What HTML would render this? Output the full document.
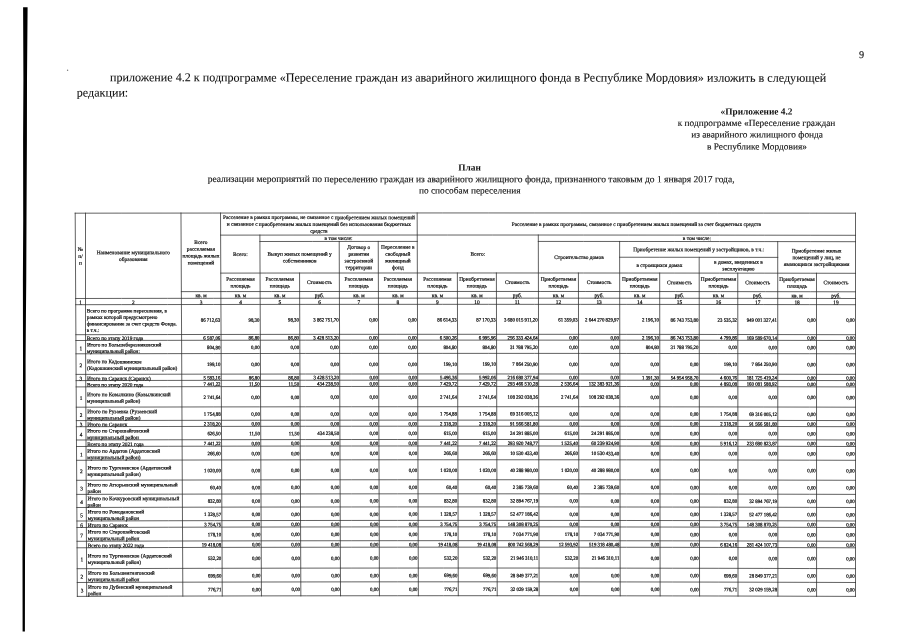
<!DOCTYPE html>
<html lang="ru"><head><meta charset="utf-8"><title>Приложение 4.2</title>
<style>
html,body{margin:0;padding:0;background:#fff;}
body{width:904px;height:640px;position:relative;overflow:hidden;font-family:"Liberation Serif",serif;color:#111;}
svg{position:absolute;left:0;top:0;}
#txt{position:absolute;left:0;top:0;width:904px;height:640px;will-change:transform;}
.x{position:absolute;left:0;top:0;white-space:nowrap;text-align:center;transform-origin:0 0;color:#0c0c0c;overflow:visible;}
.t{position:absolute;left:0;top:0;white-space:nowrap;transform-origin:0 0;color:#111;}
.b{font-weight:bold;}
.h{font-size:5.4px;line-height:6px;height:6px;-webkit-text-stroke:0.19px #0c0c0c;}
.u{font-size:5.4px;line-height:6px;height:6px;-webkit-text-stroke:0.2px #0c0c0c;}
.n{font-size:4.85px;line-height:5px;height:5px;-webkit-text-stroke:0.22px #0c0c0c;}
.l{font-size:5.3px;line-height:6px;height:6px;-webkit-text-stroke:0.2px #0c0c0c;}
.r{font-size:5.3px;line-height:6px;height:6px;-webkit-text-stroke:0.2px #0c0c0c;}
</style></head>
<body>
<svg width="904" height="640" viewBox="0 0 904 640">
<polygon points="23.1,7.3 27.6,7.3 27.0,80 26.9,140 26.5,220 26.25,280 25.9,320 25.6,360 25.6,480 25.0,560 24.9,631.5 22.6,631.5 22.5,560 22.9,480 23.0,360 22.9,280 23.2,220 23.1,140 23.4,80" fill="#000" stroke="none"/>
<circle cx="67.6" cy="70.2" r="0.7" fill="#777" stroke="none"/>
<g stroke="#2e2e2e" fill="none" stroke-linecap="square">
<polyline points="75.20,213.20 121.10,213.14 167.00,213.10 212.90,213.05 258.80,213.02 304.70,212.99 350.60,212.97 396.50,212.96 442.40,212.95 488.30,212.95 534.20,212.96 580.10,212.97 626.00,212.99 671.90,213.02 717.80,213.05 763.70,213.10 809.60,213.14 855.50,213.20" stroke-width="0.75"/>
<polyline points="77.35,596.39 123.12,596.24 168.90,596.10 214.67,595.99 260.44,595.89 306.22,595.82 351.99,595.76 397.76,595.72 443.54,595.70 489.31,595.70 535.08,595.72 580.86,595.76 626.63,595.82 672.41,595.90 718.18,595.99 763.95,596.11 809.73,596.25 855.50,596.40" stroke-width="0.75"/>
<line x1="75.20" y1="213.20" x2="77.35" y2="596.39" stroke-width="0.75"/>
<line x1="855.50" y1="213.20" x2="855.50" y2="596.40" stroke-width="0.75"/>
<line x1="180.98" y1="213.08" x2="182.84" y2="596.07" stroke-width="0.75"/>
<line x1="220.51" y1="213.05" x2="222.26" y2="595.97" stroke-width="0.75"/>
<line x1="417.16" y1="212.95" x2="418.37" y2="595.71" stroke-width="0.75"/>
<line x1="85.50" y1="213.19" x2="85.50" y2="329.98" stroke-width="0.75"/>
<line x1="85.50" y1="329.98" x2="86.70" y2="596.36" stroke-width="0.75"/>
<polyline points="220.61,235.13 265.96,235.10 311.31,235.07 356.66,235.05 402.01,235.03 447.36,235.02 492.71,235.03 538.06,235.03 583.41,235.05 628.76,235.07 674.10,235.10 719.45,235.14 764.80,235.19 810.15,235.24 855.50,235.30" stroke-width="0.75"/>
<polyline points="259.92,241.50 312.36,241.46 364.81,241.44 417.25,241.42" stroke-width="0.75"/>
<polyline points="538.32,241.43 583.63,241.44 628.94,241.47 674.26,241.50 719.57,241.54 764.88,241.58 810.19,241.64 855.50,241.70" stroke-width="0.75"/>
<polyline points="619.64,257.25 659.16,257.27 698.68,257.31 738.20,257.35 777.72,257.39" stroke-width="0.75"/>
<polyline points="220.79,273.11 266.12,273.06 311.46,273.03 356.80,273.00 402.13,272.99 447.47,272.98 492.81,272.98 538.14,272.99 583.48,273.01 628.82,273.04 674.15,273.07 719.49,273.12 764.83,273.17 810.16,273.23 855.50,273.30" stroke-width="0.75"/>
<polyline points="181.36,291.64 226.31,291.59 271.25,291.54 316.19,291.51 361.13,291.48 406.08,291.47 451.02,291.46 495.96,291.46 540.90,291.47 585.85,291.49 630.79,291.52 675.73,291.56 720.67,291.60 765.62,291.66 810.56,291.73 855.50,291.80" stroke-width="0.75"/>
<polyline points="75.68,298.50 121.55,298.42 167.42,298.35 213.29,298.30 259.17,298.25 305.04,298.21 350.91,298.18 396.78,298.16 442.65,298.15 488.53,298.15 534.40,298.16 580.27,298.18 626.14,298.21 672.01,298.25 717.88,298.30 763.76,298.35 809.63,298.42 855.50,298.50" stroke-width="0.75"/>
<polyline points="75.71,304.70 121.58,304.62 167.45,304.55 213.32,304.49 259.19,304.44 305.06,304.40 350.93,304.37 396.80,304.35 442.67,304.34 488.54,304.34 534.41,304.35 580.28,304.37 626.15,304.40 672.02,304.44 717.89,304.49 763.76,304.55 809.63,304.62 855.50,304.70" stroke-width="0.75"/>
<line x1="259.89" y1="235.10" x2="261.43" y2="595.89" stroke-width="0.75"/>
<line x1="538.31" y1="235.03" x2="539.13" y2="595.72" stroke-width="0.75"/>
<line x1="339.21" y1="241.45" x2="340.52" y2="595.77" stroke-width="0.75"/>
<line x1="378.23" y1="241.43" x2="379.45" y2="595.73" stroke-width="0.75"/>
<line x1="619.62" y1="241.46" x2="620.22" y2="595.81" stroke-width="0.75"/>
<line x1="777.71" y1="241.60" x2="777.90" y2="596.15" stroke-width="0.75"/>
<line x1="699.18" y1="257.31" x2="699.56" y2="595.95" stroke-width="0.75"/>
<line x1="299.56" y1="273.04" x2="300.85" y2="595.82" stroke-width="0.75"/>
<line x1="457.37" y1="272.98" x2="458.29" y2="595.70" stroke-width="0.75"/>
<line x1="496.38" y1="272.98" x2="497.21" y2="595.70" stroke-width="0.75"/>
<line x1="578.41" y1="273.01" x2="579.05" y2="595.76" stroke-width="0.75"/>
<line x1="659.68" y1="273.06" x2="660.14" y2="595.87" stroke-width="0.75"/>
<line x1="737.76" y1="273.14" x2="738.03" y2="596.04" stroke-width="0.75"/>
<line x1="816.49" y1="273.24" x2="816.58" y2="596.27" stroke-width="0.75"/>
<polyline points="75.88,334.70 121.74,334.61 167.60,334.54 213.46,334.47 259.32,334.42 305.18,334.37 351.04,334.34 396.90,334.32 442.76,334.31 488.62,334.31 534.48,334.32 580.34,334.34 626.20,334.37 672.06,334.42 717.92,334.47 763.78,334.54 809.64,334.61 855.50,334.70" stroke-width="0.75"/>
<polyline points="75.91,340.50 121.77,340.41 167.63,340.33 213.49,340.27 259.35,340.21 305.20,340.17 351.06,340.13 396.92,340.11 442.78,340.10 488.64,340.10 534.49,340.11 580.35,340.14 626.21,340.17 672.07,340.21 717.93,340.27 763.78,340.33 809.64,340.41 855.50,340.50" stroke-width="0.75"/>
<polyline points="75.99,353.80 121.84,353.71 167.70,353.63 213.55,353.56 259.40,353.50 305.26,353.45 351.11,353.42 396.96,353.40 442.82,353.39 488.67,353.39 534.52,353.40 580.38,353.42 626.23,353.46 672.09,353.50 717.94,353.56 763.79,353.63 809.65,353.71 855.50,353.80" stroke-width="0.75"/>
<polyline points="76.10,374.40 121.95,374.30 167.80,374.22 213.64,374.14 259.49,374.08 305.34,374.03 351.19,374.00 397.03,373.97 442.88,373.96 488.73,373.96 534.57,373.97 580.42,374.00 626.27,374.04 672.11,374.08 717.96,374.14 763.81,374.22 809.65,374.30 855.50,374.40" stroke-width="0.75"/>
<polyline points="76.14,380.60 121.98,380.50 167.83,380.41 213.67,380.34 259.52,380.28 305.36,380.23 351.21,380.19 397.05,380.17 442.90,380.15 488.74,380.16 534.59,380.17 580.43,380.19 626.28,380.23 672.12,380.28 717.97,380.34 763.81,380.41 809.66,380.50 855.50,380.60" stroke-width="0.75"/>
<polyline points="76.17,386.90 122.02,386.80 167.86,386.71 213.70,386.64 259.55,386.57 305.39,386.52 351.23,386.48 397.07,386.46 442.92,386.45 488.76,386.45 534.60,386.46 580.44,386.49 626.29,386.52 672.13,386.57 717.97,386.64 763.81,386.71 809.66,386.80 855.50,386.90" stroke-width="0.75"/>
<polyline points="76.29,407.20 122.12,407.09 167.96,407.00 213.80,406.92 259.63,406.86 305.47,406.80 351.30,406.76 397.14,406.74 442.98,406.72 488.81,406.72 534.65,406.74 580.48,406.76 626.32,406.80 672.16,406.86 717.99,406.92 763.83,407.00 809.66,407.09 855.50,407.20" stroke-width="0.75"/>
<polyline points="76.36,420.60 122.19,420.49 168.03,420.39 213.86,420.31 259.69,420.24 305.52,420.19 351.35,420.15 397.18,420.12 443.02,420.11 488.85,420.11 534.68,420.12 580.51,420.15 626.34,420.19 672.17,420.25 718.01,420.31 763.84,420.40 809.67,420.49 855.50,420.60" stroke-width="0.75"/>
<polyline points="76.40,426.70 122.23,426.59 168.06,426.49 213.89,426.41 259.72,426.34 305.55,426.28 351.37,426.24 397.20,426.21 443.03,426.20 488.86,426.20 534.69,426.22 580.52,426.24 626.35,426.28 672.18,426.34 718.01,426.41 763.84,426.49 809.67,426.59 855.50,426.70" stroke-width="0.75"/>
<polyline points="76.47,440.00 122.30,439.88 168.12,439.78 213.95,439.70 259.77,439.63 305.60,439.57 351.42,439.53 397.25,439.50 443.07,439.49 488.90,439.49 534.72,439.50 580.55,439.53 626.37,439.57 672.20,439.63 718.02,439.70 763.85,439.79 809.67,439.89 855.50,440.00" stroke-width="0.75"/>
<polyline points="76.51,446.50 122.33,446.38 168.15,446.28 213.98,446.19 259.80,446.12 305.62,446.06 351.45,446.02 397.27,445.99 443.09,445.98 488.92,445.98 534.74,445.99 580.56,446.02 626.38,446.07 672.21,446.12 718.03,446.20 763.85,446.28 809.68,446.38 855.50,446.50" stroke-width="0.75"/>
<polyline points="76.59,460.30 122.40,460.18 168.22,460.07 214.04,459.98 259.86,459.91 305.68,459.85 351.50,459.81 397.32,459.78 443.13,459.76 488.95,459.76 534.77,459.78 580.59,459.81 626.41,459.85 672.23,459.91 718.04,459.99 763.86,460.08 809.68,460.18 855.50,460.30" stroke-width="0.75"/>
<polyline points="76.70,480.30 122.51,480.17 168.32,480.06 214.13,479.97 259.95,479.89 305.76,479.83 351.57,479.78 397.38,479.75 443.19,479.74 489.00,479.74 534.82,479.75 580.63,479.79 626.44,479.83 672.25,479.89 718.06,479.97 763.88,480.07 809.69,480.18 855.50,480.30" stroke-width="0.75"/>
<polyline points="76.78,494.40 122.58,494.27 168.39,494.16 214.20,494.06 260.01,493.98 305.81,493.92 351.62,493.87 397.43,493.84 443.23,493.82 489.04,493.82 534.85,493.84 580.66,493.87 626.46,493.92 672.27,493.98 718.08,494.06 763.89,494.16 809.69,494.27 855.50,494.40" stroke-width="0.75"/>
<polyline points="76.85,507.50 122.65,507.36 168.46,507.25 214.26,507.15 260.06,507.07 305.86,507.00 351.67,506.96 397.47,506.92 443.27,506.91 489.08,506.91 534.88,506.92 580.68,506.96 626.49,507.01 672.29,507.07 718.09,507.15 763.89,507.25 809.70,507.37 855.50,507.50" stroke-width="0.75"/>
<polyline points="76.93,521.00 122.72,520.86 168.52,520.74 214.32,520.64 260.12,520.56 305.92,520.49 351.72,520.44 397.52,520.41 443.31,520.39 489.11,520.39 534.91,520.41 580.71,520.44 626.51,520.49 672.31,520.56 718.10,520.65 763.90,520.75 809.70,520.86 855.50,521.00" stroke-width="0.75"/>
<polyline points="76.96,527.50 122.76,527.36 168.55,527.24 214.35,527.14 260.15,527.05 305.94,526.98 351.74,526.93 397.54,526.90 443.33,526.88 489.13,526.88 534.93,526.90 580.72,526.93 626.52,526.99 672.31,527.06 718.11,527.14 763.91,527.24 809.70,527.36 855.50,527.50" stroke-width="0.75"/>
<polyline points="77.04,541.29 122.83,541.16 168.62,541.03 214.41,540.93 260.21,540.84 306.00,540.77 351.79,540.72 397.58,540.68 443.37,540.67 489.17,540.67 534.96,540.68 580.75,540.72 626.54,540.77 672.33,540.84 718.12,540.93 763.92,541.04 809.71,541.16 855.50,541.30" stroke-width="0.75"/>
<polyline points="77.08,547.79 122.87,547.65 168.66,547.53 214.44,547.42 260.23,547.34 306.02,547.26 351.81,547.21 397.60,547.18 443.39,547.16 489.18,547.16 534.97,547.18 580.76,547.21 626.55,547.27 672.34,547.34 718.13,547.43 763.92,547.53 809.71,547.66 855.50,547.80" stroke-width="0.75"/>
<polyline points="77.19,568.69 122.98,568.55 168.76,568.42 214.54,568.31 260.32,568.22 306.11,568.14 351.89,568.09 397.67,568.05 443.45,568.03 489.24,568.04 535.02,568.05 580.80,568.09 626.59,568.15 672.37,568.22 718.15,568.31 763.93,568.42 809.72,568.55 855.50,568.70" stroke-width="0.75"/>
<polyline points="77.27,582.49 123.05,582.34 168.83,582.21 214.60,582.10 260.38,582.01 306.16,581.93 351.94,581.87 397.72,581.84 443.50,581.82 489.27,581.82 535.05,581.84 580.83,581.88 626.61,581.93 672.39,582.01 718.17,582.10 763.94,582.22 809.72,582.35 855.50,582.50" stroke-width="0.75"/>
</g>
</svg>
<div id="txt">
<div class="t" style="font-size:12.1px;line-height:14px;height:14px;-webkit-text-stroke:0.08px #111;transform-origin:358.5px 11px;transform:translate(110.00px,70.50px) rotate(0.03deg)">приложение 4.2 к подпрограмме «Переселение граждан из аварийного жилищного фонда в Республике Мордовия» изложить в следующей</div>
<div class="t" style="font-size:12.1px;line-height:14px;height:14px;-webkit-text-stroke:0.08px #111;transform:translate(76.80px,85.50px) rotate(0.03deg)">редакции:</div>
<div class="t" style="font-size:10.3px;line-height:11px;height:11px;-webkit-text-stroke:0.13px #111;transform:translate(859.00px,49.00px) rotate(0.03deg)">9</div>
<div class="t b" style="font-size:9.35px;line-height:10px;height:10px;width:800.0px;text-align:center;transform-origin:400.0px 8px;transform:translate(356.50px,106.50px) rotate(0.03deg)">«Приложение 4.2</div>
<div class="t" style="font-size:9.35px;line-height:10px;height:10px;-webkit-text-stroke:0.13px #111;width:800.0px;text-align:center;transform-origin:400.0px 8px;transform:translate(356.50px,118.00px) rotate(0.03deg)">к подпрограмме «Переселение граждан</div>
<div class="t" style="font-size:9.35px;line-height:10px;height:10px;-webkit-text-stroke:0.13px #111;width:800.0px;text-align:center;transform-origin:400.0px 8px;transform:translate(357.10px,129.50px) rotate(0.03deg)">из аварийного жилищного фонда</div>
<div class="t" style="font-size:9.35px;line-height:10px;height:10px;-webkit-text-stroke:0.13px #111;width:800.0px;text-align:center;transform-origin:400.0px 8px;transform:translate(356.90px,141.50px) rotate(0.03deg)">в Республике Мордовия»</div>
<div class="t b" style="font-size:9.35px;line-height:10px;height:10px;width:800.0px;text-align:center;transform-origin:400.0px 8px;transform:translate(69.60px,162.50px) rotate(0.03deg)">План</div>
<div class="t" style="font-size:9.5px;line-height:10px;height:10px;-webkit-text-stroke:0.13px #111;width:800.0px;text-align:center;transform-origin:400.0px 8px;transform:translate(71.10px,174.20px) rotate(0.03deg)">реализации мероприятий по переселению граждан из аварийного жилищного фонда, признанного таковым до 1 января 2017 года,</div>
<div class="t" style="font-size:9.35px;line-height:10px;height:10px;-webkit-text-stroke:0.13px #111;width:800.0px;text-align:center;transform-origin:400.0px 8px;transform:translate(69.75px,185.50px) rotate(0.03deg)">по способам переселения</div>
<div class="x h" style="width:70.06px;transform:translate(45.44px,246.04px) rotate(0.03deg)">№</div>
<div class="x h" style="width:70.06px;transform:translate(45.44px,252.94px) rotate(0.03deg)">п/</div>
<div class="x h" style="width:70.06px;transform:translate(45.44px,259.84px) rotate(0.03deg)">п</div>
<div class="x h" style="width:155.69px;transform:translate(55.50px,249.19px) rotate(0.03deg)">Наименование муниципального</div>
<div class="x h" style="width:155.69px;transform:translate(55.50px,255.99px) rotate(0.03deg)">образования</div>
<div class="x h" style="width:99.52px;transform:translate(151.17px,238.97px) rotate(0.03deg)">Всего</div>
<div class="x h" style="width:99.52px;transform:translate(151.17px,245.76px) rotate(0.03deg)">расселяемая</div>
<div class="x h" style="width:99.52px;transform:translate(151.17px,252.56px) rotate(0.03deg)">площадь жилых</div>
<div class="x h" style="width:99.52px;transform:translate(151.17px,259.36px) rotate(0.03deg)">помещений</div>
<div class="x h" style="width:256.64px;transform:translate(190.56px,214.05px) rotate(0.03deg)">Расселение в рамках программы, не связанное с приобретением жилых помещений</div>
<div class="x h" style="width:256.64px;transform:translate(190.56px,220.84px) rotate(0.03deg)">и связанное с приобретением жилых помещений без использования бюджетных</div>
<div class="x h" style="width:256.64px;transform:translate(190.56px,227.64px) rotate(0.03deg)">средств</div>
<div class="x h" style="width:498.30px;transform:translate(387.20px,220.86px) rotate(0.03deg)">Расселение в рамках программы, связанное с приобретением жилых помещений за счет бюджетных средств</div>
<div class="x h" style="width:99.27px;transform:translate(190.70px,250.92px) rotate(0.03deg)">Всего:</div>
<div class="x h" style="width:217.34px;transform:translate(229.90px,234.95px) rotate(0.03deg)">в том числе:</div>
<div class="x h" style="width:139.29px;transform:translate(229.98px,250.68px) rotate(0.03deg)">Выкуп жилых помещений у</div>
<div class="x h" style="width:139.29px;transform:translate(229.98px,257.47px) rotate(0.03deg)">собственников</div>
<div class="x h" style="width:99.02px;transform:translate(309.27px,243.85px) rotate(0.03deg)">Договор о</div>
<div class="x h" style="width:99.02px;transform:translate(309.27px,250.64px) rotate(0.03deg)">развитии</div>
<div class="x h" style="width:99.02px;transform:translate(309.27px,257.44px) rotate(0.03deg)">застроенной</div>
<div class="x h" style="width:99.02px;transform:translate(309.27px,264.23px) rotate(0.03deg)">территории</div>
<div class="x h" style="width:99.02px;transform:translate(348.29px,243.84px) rotate(0.03deg)">Переселение в</div>
<div class="x h" style="width:99.02px;transform:translate(348.29px,250.63px) rotate(0.03deg)">свободный</div>
<div class="x h" style="width:99.02px;transform:translate(348.29px,257.42px) rotate(0.03deg)">жилищный</div>
<div class="x h" style="width:99.02px;transform:translate(348.29px,264.22px) rotate(0.03deg)">фонд</div>
<div class="x h" style="width:181.06px;transform:translate(387.29px,250.82px) rotate(0.03deg)">Всего:</div>
<div class="x h" style="width:377.19px;transform:translate(508.31px,235.02px) rotate(0.03deg)">в том числе:</div>
<div class="x h" style="width:141.29px;transform:translate(508.36px,254.04px) rotate(0.03deg)">Строительство домов</div>
<div class="x h" style="width:218.08px;transform:translate(589.63px,246.23px) rotate(0.03deg)">Приобретение жилых помещений у застройщиков, в т.ч.:</div>
<div class="x h" style="width:139.53px;transform:translate(589.66px,261.99px) rotate(0.03deg)">в строящихся домах</div>
<div class="x h" style="width:138.53px;transform:translate(669.19px,258.66px) rotate(0.03deg)">в домах, введенных в</div>
<div class="x h" style="width:138.53px;transform:translate(669.19px,265.46px) rotate(0.03deg)">эксплуатацию</div>
<div class="x h" style="width:137.78px;transform:translate(747.72px,247.47px) rotate(0.03deg)">Приобретение жилых</div>
<div class="x h" style="width:137.78px;transform:translate(747.72px,254.26px) rotate(0.03deg)">помещений у лиц, не</div>
<div class="x h" style="width:137.78px;transform:translate(747.72px,261.06px) rotate(0.03deg)">являющихся застройщиками</div>
<div class="x h" style="width:99.26px;transform:translate(190.83px,275.75px) rotate(0.03deg)">Расселяемая</div>
<div class="x h" style="width:99.26px;transform:translate(190.83px,282.55px) rotate(0.03deg)">площадь</div>
<div class="x h" style="width:99.51px;transform:translate(230.09px,275.72px) rotate(0.03deg)">Расселяемая</div>
<div class="x h" style="width:99.51px;transform:translate(230.09px,282.51px) rotate(0.03deg)">площадь</div>
<div class="x h" style="width:99.76px;transform:translate(269.60px,279.09px) rotate(0.03deg)">Стоимость</div>
<div class="x h" style="width:99.01px;transform:translate(309.36px,275.67px) rotate(0.03deg)">Расселяемая</div>
<div class="x h" style="width:99.01px;transform:translate(309.36px,282.46px) rotate(0.03deg)">площадь</div>
<div class="x h" style="width:99.01px;transform:translate(348.37px,275.65px) rotate(0.03deg)">Расселяемая</div>
<div class="x h" style="width:99.01px;transform:translate(348.37px,282.45px) rotate(0.03deg)">площадь</div>
<div class="x h" style="width:100.01px;transform:translate(387.38px,275.64px) rotate(0.03deg)">Расселяемая</div>
<div class="x h" style="width:100.01px;transform:translate(387.38px,282.44px) rotate(0.03deg)">площадь</div>
<div class="x h" style="width:99.01px;transform:translate(427.39px,275.64px) rotate(0.03deg)">Приобретаемая</div>
<div class="x h" style="width:99.01px;transform:translate(427.39px,282.44px) rotate(0.03deg)">площадь</div>
<div class="x h" style="width:102.01px;transform:translate(466.40px,279.04px) rotate(0.03deg)">Стоимость</div>
<div class="x h" style="width:100.01px;transform:translate(508.41px,275.66px) rotate(0.03deg)">Приобретаемая</div>
<div class="x h" style="width:100.01px;transform:translate(508.41px,282.45px) rotate(0.03deg)">площадь</div>
<div class="x h" style="width:101.26px;transform:translate(548.43px,279.08px) rotate(0.03deg)">Стоимость</div>
<div class="x h" style="width:100.01px;transform:translate(589.69px,275.71px) rotate(0.03deg)">Приобретаемая</div>
<div class="x h" style="width:100.01px;transform:translate(589.69px,282.50px) rotate(0.03deg)">площадь</div>
<div class="x h" style="width:99.51px;transform:translate(629.70px,279.14px) rotate(0.03deg)">Стоимость</div>
<div class="x h" style="width:98.56px;transform:translate(669.21px,275.78px) rotate(0.03deg)">Приобретаемая</div>
<div class="x h" style="width:98.56px;transform:translate(669.21px,282.58px) rotate(0.03deg)">площадь</div>
<div class="x h" style="width:99.96px;transform:translate(707.77px,279.23px) rotate(0.03deg)">Стоимость</div>
<div class="x h" style="width:98.76px;transform:translate(747.73px,275.88px) rotate(0.03deg)">Приобретаемая</div>
<div class="x h" style="width:98.76px;transform:translate(747.73px,282.68px) rotate(0.03deg)">площадь</div>
<div class="x h" style="width:99.01px;transform:translate(786.49px,279.34px) rotate(0.03deg)">Стоимость</div>
<div class="x u" style="width:99.51px;transform:translate(151.38px,292.06px) rotate(0.03deg) scaleY(1.05)">кв. м</div>
<div class="x u" style="width:99.26px;transform:translate(190.89px,292.02px) rotate(0.03deg) scaleY(1.05)">кв. м</div>
<div class="x u" style="width:99.51px;transform:translate(230.14px,291.98px) rotate(0.03deg) scaleY(1.05)">кв. м</div>
<div class="x u" style="width:99.76px;transform:translate(269.65px,291.95px) rotate(0.03deg) scaleY(1.05)">руб.</div>
<div class="x u" style="width:99.01px;transform:translate(309.41px,291.93px) rotate(0.03deg) scaleY(1.05)">кв. м</div>
<div class="x u" style="width:99.01px;transform:translate(348.41px,291.91px) rotate(0.03deg) scaleY(1.05)">кв. м</div>
<div class="x u" style="width:100.01px;transform:translate(387.42px,291.90px) rotate(0.03deg) scaleY(1.05)">кв. м</div>
<div class="x u" style="width:99.01px;transform:translate(427.43px,291.90px) rotate(0.03deg) scaleY(1.05)">кв. м</div>
<div class="x u" style="width:102.01px;transform:translate(466.44px,291.91px) rotate(0.03deg) scaleY(1.05)">руб.</div>
<div class="x u" style="width:100.01px;transform:translate(508.44px,291.92px) rotate(0.03deg) scaleY(1.05)">кв. м</div>
<div class="x u" style="width:101.26px;transform:translate(548.45px,291.94px) rotate(0.03deg) scaleY(1.05)">руб.</div>
<div class="x u" style="width:100.01px;transform:translate(589.71px,291.97px) rotate(0.03deg) scaleY(1.05)">кв. м</div>
<div class="x u" style="width:99.51px;transform:translate(629.72px,292.01px) rotate(0.03deg) scaleY(1.05)">руб.</div>
<div class="x u" style="width:98.56px;transform:translate(669.22px,292.05px) rotate(0.03deg) scaleY(1.05)">кв. м</div>
<div class="x u" style="width:99.96px;transform:translate(707.78px,292.10px) rotate(0.03deg) scaleY(1.05)">руб.</div>
<div class="x u" style="width:98.76px;transform:translate(747.74px,292.15px) rotate(0.03deg) scaleY(1.05)">кв. м</div>
<div class="x u" style="width:99.01px;transform:translate(786.49px,292.22px) rotate(0.03deg) scaleY(1.05)">руб.</div>
<div class="x u" style="width:69.80px;transform:translate(45.70px,299.04px) rotate(0.03deg) scaleY(1.05)">1</div>
<div class="x u" style="width:155.91px;transform:translate(55.50px,298.95px) rotate(0.03deg) scaleY(1.05)">2</div>
<div class="x u" style="width:99.51px;transform:translate(151.41px,298.86px) rotate(0.03deg) scaleY(1.05)">3</div>
<div class="x u" style="width:99.26px;transform:translate(190.92px,298.81px) rotate(0.03deg) scaleY(1.05)">4</div>
<div class="x u" style="width:99.51px;transform:translate(230.17px,298.77px) rotate(0.03deg) scaleY(1.05)">5</div>
<div class="x u" style="width:99.76px;transform:translate(269.68px,298.74px) rotate(0.03deg) scaleY(1.05)">6</div>
<div class="x u" style="width:99.01px;transform:translate(309.43px,298.72px) rotate(0.03deg) scaleY(1.05)">7</div>
<div class="x u" style="width:99.01px;transform:translate(348.44px,298.70px) rotate(0.03deg) scaleY(1.05)">8</div>
<div class="x u" style="width:100.01px;transform:translate(387.44px,298.69px) rotate(0.03deg) scaleY(1.05)">9</div>
<div class="x u" style="width:99.01px;transform:translate(427.45px,298.69px) rotate(0.03deg) scaleY(1.05)">10</div>
<div class="x u" style="width:102.01px;transform:translate(466.45px,298.70px) rotate(0.03deg) scaleY(1.05)">11</div>
<div class="x u" style="width:100.01px;transform:translate(508.46px,298.71px) rotate(0.03deg) scaleY(1.05)">12</div>
<div class="x u" style="width:101.26px;transform:translate(548.46px,298.73px) rotate(0.03deg) scaleY(1.05)">13</div>
<div class="x u" style="width:100.01px;transform:translate(589.72px,298.76px) rotate(0.03deg) scaleY(1.05)">14</div>
<div class="x u" style="width:99.51px;transform:translate(629.72px,298.80px) rotate(0.03deg) scaleY(1.05)">15</div>
<div class="x u" style="width:98.56px;transform:translate(669.23px,298.84px) rotate(0.03deg) scaleY(1.05)">16</div>
<div class="x u" style="width:99.96px;transform:translate(707.78px,298.89px) rotate(0.03deg) scaleY(1.05)">17</div>
<div class="x u" style="width:98.76px;transform:translate(747.74px,298.95px) rotate(0.03deg) scaleY(1.05)">18</div>
<div class="x u" style="width:99.01px;transform:translate(786.49px,299.02px) rotate(0.03deg) scaleY(1.05)">19</div>
<div class="x l" style="width:94.70px;text-align:left;transform:translate(86.80px,307.42px) rotate(0.03deg)">Всего по программе переселения, в</div>
<div class="x l" style="width:94.70px;text-align:left;transform:translate(86.80px,313.97px) rotate(0.03deg)">рамках которой предусмотрено</div>
<div class="x l" style="width:94.70px;text-align:left;transform:translate(86.80px,320.52px) rotate(0.03deg)">финансирование за счет средств Фонда.</div>
<div class="x l" style="width:94.70px;text-align:left;transform:translate(86.80px,327.07px) rotate(0.03deg)">в т.ч.:</div>
<div class="x n" style="width:38.70px;text-align:right;transform:translate(181.50px,317.44px) rotate(0.03deg) scaleY(1.06)">86&nbsp;712,63</div>
<div class="x n" style="width:38.45px;text-align:right;transform:translate(221.00px,317.39px) rotate(0.03deg) scaleY(1.06)">98,30</div>
<div class="x n" style="width:38.70px;text-align:right;transform:translate(260.25px,317.35px) rotate(0.03deg) scaleY(1.06)">98,30</div>
<div class="x n" style="width:38.95px;text-align:right;transform:translate(299.75px,317.32px) rotate(0.03deg) scaleY(1.06)">3&nbsp;862&nbsp;751,70</div>
<div class="x n" style="width:38.20px;text-align:right;transform:translate(339.50px,317.29px) rotate(0.03deg) scaleY(1.06)">0,00</div>
<div class="x n" style="width:38.20px;text-align:right;transform:translate(378.50px,317.28px) rotate(0.03deg) scaleY(1.06)">0,00</div>
<div class="x n" style="width:39.20px;text-align:right;transform:translate(417.50px,317.27px) rotate(0.03deg) scaleY(1.06)">86&nbsp;614,33</div>
<div class="x n" style="width:38.20px;text-align:right;transform:translate(457.50px,317.27px) rotate(0.03deg) scaleY(1.06)">87&nbsp;170,33</div>
<div class="x n" style="width:41.20px;text-align:right;transform:translate(496.50px,317.27px) rotate(0.03deg) scaleY(1.06)">3&nbsp;680&nbsp;015&nbsp;911,20</div>
<div class="x n" style="width:39.20px;text-align:right;transform:translate(538.50px,317.29px) rotate(0.03deg) scaleY(1.06)">61&nbsp;359,03</div>
<div class="x n" style="width:40.45px;text-align:right;transform:translate(578.50px,317.31px) rotate(0.03deg) scaleY(1.06)">2&nbsp;644&nbsp;270&nbsp;829,97</div>
<div class="x n" style="width:39.20px;text-align:right;transform:translate(619.75px,317.34px) rotate(0.03deg) scaleY(1.06)">2&nbsp;196,10</div>
<div class="x n" style="width:38.70px;text-align:right;transform:translate(659.75px,317.38px) rotate(0.03deg) scaleY(1.06)">86&nbsp;743&nbsp;753,80</div>
<div class="x n" style="width:37.75px;text-align:right;transform:translate(699.25px,317.43px) rotate(0.03deg) scaleY(1.06)">23&nbsp;535,32</div>
<div class="x n" style="width:39.15px;text-align:right;transform:translate(737.80px,317.48px) rotate(0.03deg) scaleY(1.06)">949&nbsp;001&nbsp;327,41</div>
<div class="x n" style="width:37.95px;text-align:right;transform:translate(777.75px,317.54px) rotate(0.03deg) scaleY(1.06)">0,00</div>
<div class="x n" style="width:38.20px;text-align:right;transform:translate(816.50px,317.61px) rotate(0.03deg) scaleY(1.06)">0,00</div>
<div class="x l" style="width:94.75px;text-align:left;transform:translate(86.83px,335.09px) rotate(0.03deg)">Всего по этапу 2019 года</div>
<div class="x n" style="width:38.70px;text-align:right;transform:translate(181.59px,335.38px) rotate(0.03deg) scaleY(1.06)">6&nbsp;587,06</div>
<div class="x n" style="width:38.45px;text-align:right;transform:translate(221.08px,335.33px) rotate(0.03deg) scaleY(1.06)">86,80</div>
<div class="x n" style="width:38.70px;text-align:right;transform:translate(260.33px,335.29px) rotate(0.03deg) scaleY(1.06)">86,80</div>
<div class="x n" style="width:38.94px;text-align:right;transform:translate(299.82px,335.25px) rotate(0.03deg) scaleY(1.06)">3&nbsp;428&nbsp;513,20</div>
<div class="x n" style="width:38.20px;text-align:right;transform:translate(339.57px,335.23px) rotate(0.03deg) scaleY(1.06)">0,00</div>
<div class="x n" style="width:38.20px;text-align:right;transform:translate(378.56px,335.21px) rotate(0.03deg) scaleY(1.06)">0,00</div>
<div class="x n" style="width:39.19px;text-align:right;transform:translate(417.56px,335.20px) rotate(0.03deg) scaleY(1.06)">6&nbsp;500,26</div>
<div class="x n" style="width:38.20px;text-align:right;transform:translate(457.55px,335.20px) rotate(0.03deg) scaleY(1.06)">6&nbsp;995,96</div>
<div class="x n" style="width:41.19px;text-align:right;transform:translate(496.55px,335.20px) rotate(0.03deg) scaleY(1.06)">256&nbsp;333&nbsp;424,64</div>
<div class="x n" style="width:39.19px;text-align:right;transform:translate(538.54px,335.22px) rotate(0.03deg) scaleY(1.06)">0,00</div>
<div class="x n" style="width:40.44px;text-align:right;transform:translate(578.54px,335.24px) rotate(0.03deg) scaleY(1.06)">0,00</div>
<div class="x n" style="width:39.19px;text-align:right;transform:translate(619.78px,335.27px) rotate(0.03deg) scaleY(1.06)">2&nbsp;196,10</div>
<div class="x n" style="width:38.70px;text-align:right;transform:translate(659.77px,335.32px) rotate(0.03deg) scaleY(1.06)">86&nbsp;743&nbsp;753,80</div>
<div class="x n" style="width:37.75px;text-align:right;transform:translate(699.27px,335.36px) rotate(0.03deg) scaleY(1.06)">4&nbsp;799,86</div>
<div class="x n" style="width:39.14px;text-align:right;transform:translate(737.81px,335.42px) rotate(0.03deg) scaleY(1.06)">169&nbsp;589&nbsp;670,14</div>
<div class="x n" style="width:37.95px;text-align:right;transform:translate(777.76px,335.48px) rotate(0.03deg) scaleY(1.06)">0,00</div>
<div class="x n" style="width:38.20px;text-align:right;transform:translate(816.50px,335.55px) rotate(0.03deg) scaleY(1.06)">0,00</div>
<div class="x r" style="width:69.63px;transform:translate(45.95px,344.91px) rotate(0.03deg) scaleY(1.05)">1</div>
<div class="x l" style="width:94.75px;text-align:left;transform:translate(86.88px,341.41px) rotate(0.03deg)">Итого по Большеберезниковский</div>
<div class="x l" style="width:94.75px;text-align:left;transform:translate(86.88px,347.96px) rotate(0.03deg)">муниципальный район:</div>
<div class="x n" style="width:38.69px;text-align:right;transform:translate(181.63px,344.87px) rotate(0.03deg) scaleY(1.06)">804,80</div>
<div class="x n" style="width:38.44px;text-align:right;transform:translate(221.12px,344.82px) rotate(0.03deg) scaleY(1.06)">0,00</div>
<div class="x n" style="width:38.69px;text-align:right;transform:translate(260.37px,344.78px) rotate(0.03deg) scaleY(1.06)">0,00</div>
<div class="x n" style="width:38.94px;text-align:right;transform:translate(299.86px,344.74px) rotate(0.03deg) scaleY(1.06)">0,00</div>
<div class="x n" style="width:38.19px;text-align:right;transform:translate(339.60px,344.72px) rotate(0.03deg) scaleY(1.06)">0,00</div>
<div class="x n" style="width:38.19px;text-align:right;transform:translate(378.59px,344.70px) rotate(0.03deg) scaleY(1.06)">0,00</div>
<div class="x n" style="width:39.19px;text-align:right;transform:translate(417.59px,344.69px) rotate(0.03deg) scaleY(1.06)">804,80</div>
<div class="x n" style="width:38.19px;text-align:right;transform:translate(457.58px,344.68px) rotate(0.03deg) scaleY(1.06)">804,80</div>
<div class="x n" style="width:41.19px;text-align:right;transform:translate(496.57px,344.69px) rotate(0.03deg) scaleY(1.06)">31&nbsp;788&nbsp;795,20</div>
<div class="x n" style="width:39.19px;text-align:right;transform:translate(538.56px,344.71px) rotate(0.03deg) scaleY(1.06)">0,00</div>
<div class="x n" style="width:40.44px;text-align:right;transform:translate(578.55px,344.73px) rotate(0.03deg) scaleY(1.06)">0,00</div>
<div class="x n" style="width:39.19px;text-align:right;transform:translate(619.80px,344.77px) rotate(0.03deg) scaleY(1.06)">804,80</div>
<div class="x n" style="width:38.69px;text-align:right;transform:translate(659.79px,344.81px) rotate(0.03deg) scaleY(1.06)">31&nbsp;788&nbsp;795,20</div>
<div class="x n" style="width:37.74px;text-align:right;transform:translate(699.28px,344.86px) rotate(0.03deg) scaleY(1.06)">0,00</div>
<div class="x n" style="width:39.14px;text-align:right;transform:translate(737.82px,344.91px) rotate(0.03deg) scaleY(1.06)">0,00</div>
<div class="x n" style="width:37.94px;text-align:right;transform:translate(777.77px,344.98px) rotate(0.03deg) scaleY(1.06)">0,00</div>
<div class="x n" style="width:38.19px;text-align:right;transform:translate(816.51px,345.05px) rotate(0.03deg) scaleY(1.06)">0,00</div>
<div class="x r" style="width:69.61px;transform:translate(46.05px,361.86px) rotate(0.03deg) scaleY(1.05)">2</div>
<div class="x l" style="width:94.76px;text-align:left;transform:translate(86.95px,358.36px) rotate(0.03deg)">Итого по Кадошкинское</div>
<div class="x l" style="width:94.76px;text-align:left;transform:translate(86.95px,364.90px) rotate(0.03deg)">(Кадошкинский муниципальный район)</div>
<div class="x n" style="width:38.69px;text-align:right;transform:translate(181.71px,361.81px) rotate(0.03deg) scaleY(1.06)">199,10</div>
<div class="x n" style="width:38.44px;text-align:right;transform:translate(221.20px,361.76px) rotate(0.03deg) scaleY(1.06)">0,00</div>
<div class="x n" style="width:38.69px;text-align:right;transform:translate(260.44px,361.71px) rotate(0.03deg) scaleY(1.06)">0,00</div>
<div class="x n" style="width:38.94px;text-align:right;transform:translate(299.93px,361.67px) rotate(0.03deg) scaleY(1.06)">0,00</div>
<div class="x n" style="width:38.19px;text-align:right;transform:translate(339.66px,361.65px) rotate(0.03deg) scaleY(1.06)">0,00</div>
<div class="x n" style="width:38.19px;text-align:right;transform:translate(378.65px,361.63px) rotate(0.03deg) scaleY(1.06)">0,00</div>
<div class="x n" style="width:39.19px;text-align:right;transform:translate(417.64px,361.62px) rotate(0.03deg) scaleY(1.06)">199,10</div>
<div class="x n" style="width:38.19px;text-align:right;transform:translate(457.63px,361.61px) rotate(0.03deg) scaleY(1.06)">199,10</div>
<div class="x n" style="width:41.19px;text-align:right;transform:translate(496.61px,361.62px) rotate(0.03deg) scaleY(1.06)">7&nbsp;864&nbsp;250,90</div>
<div class="x n" style="width:39.19px;text-align:right;transform:translate(538.60px,361.64px) rotate(0.03deg) scaleY(1.06)">0,00</div>
<div class="x n" style="width:40.44px;text-align:right;transform:translate(578.59px,361.66px) rotate(0.03deg) scaleY(1.06)">0,00</div>
<div class="x n" style="width:39.19px;text-align:right;transform:translate(619.82px,361.70px) rotate(0.03deg) scaleY(1.06)">0,00</div>
<div class="x n" style="width:38.69px;text-align:right;transform:translate(659.81px,361.74px) rotate(0.03deg) scaleY(1.06)">0,00</div>
<div class="x n" style="width:37.74px;text-align:right;transform:translate(699.30px,361.79px) rotate(0.03deg) scaleY(1.06)">199,10</div>
<div class="x n" style="width:39.14px;text-align:right;transform:translate(737.84px,361.86px) rotate(0.03deg) scaleY(1.06)">7&nbsp;864&nbsp;250,90</div>
<div class="x n" style="width:37.94px;text-align:right;transform:translate(777.77px,361.92px) rotate(0.03deg) scaleY(1.06)">0,00</div>
<div class="x n" style="width:38.19px;text-align:right;transform:translate(816.51px,362.00px) rotate(0.03deg) scaleY(1.06)">0,00</div>
<div class="x r" style="width:69.59px;transform:translate(46.12px,375.14px) rotate(0.03deg) scaleY(1.05)">3</div>
<div class="x l" style="width:94.76px;text-align:left;transform:translate(87.01px,375.18px) rotate(0.03deg)">Итого по Саранск (Саранск)</div>
<div class="x n" style="width:38.68px;text-align:right;transform:translate(181.78px,375.25px) rotate(0.03deg) scaleY(1.06)">5&nbsp;583,16</div>
<div class="x n" style="width:38.43px;text-align:right;transform:translate(221.26px,375.20px) rotate(0.03deg) scaleY(1.06)">86,80</div>
<div class="x n" style="width:38.68px;text-align:right;transform:translate(260.50px,375.15px) rotate(0.03deg) scaleY(1.06)">86,80</div>
<div class="x n" style="width:38.93px;text-align:right;transform:translate(299.98px,375.11px) rotate(0.03deg) scaleY(1.06)">3&nbsp;428&nbsp;513,20</div>
<div class="x n" style="width:38.18px;text-align:right;transform:translate(339.71px,375.08px) rotate(0.03deg) scaleY(1.06)">0,00</div>
<div class="x n" style="width:38.18px;text-align:right;transform:translate(378.70px,375.06px) rotate(0.03deg) scaleY(1.06)">0,00</div>
<div class="x n" style="width:39.18px;text-align:right;transform:translate(417.68px,375.05px) rotate(0.03deg) scaleY(1.06)">5&nbsp;496,36</div>
<div class="x n" style="width:38.18px;text-align:right;transform:translate(457.66px,375.05px) rotate(0.03deg) scaleY(1.06)">5&nbsp;992,06</div>
<div class="x n" style="width:41.18px;text-align:right;transform:translate(496.65px,375.06px) rotate(0.03deg) scaleY(1.06)">216&nbsp;680&nbsp;377,94</div>
<div class="x n" style="width:39.18px;text-align:right;transform:translate(538.63px,375.07px) rotate(0.03deg) scaleY(1.06)">0,00</div>
<div class="x n" style="width:40.43px;text-align:right;transform:translate(578.61px,375.10px) rotate(0.03deg) scaleY(1.06)">0,00</div>
<div class="x n" style="width:39.18px;text-align:right;transform:translate(619.85px,375.14px) rotate(0.03deg) scaleY(1.06)">1&nbsp;391,30</div>
<div class="x n" style="width:38.68px;text-align:right;transform:translate(659.83px,375.18px) rotate(0.03deg) scaleY(1.06)">54&nbsp;954&nbsp;958,70</div>
<div class="x n" style="width:37.73px;text-align:right;transform:translate(699.31px,375.24px) rotate(0.03deg) scaleY(1.06)">4&nbsp;600,76</div>
<div class="x n" style="width:39.13px;text-align:right;transform:translate(737.85px,375.30px) rotate(0.03deg) scaleY(1.06)">181&nbsp;725&nbsp;419,24</div>
<div class="x n" style="width:37.93px;text-align:right;transform:translate(777.78px,375.37px) rotate(0.03deg) scaleY(1.06)">0,00</div>
<div class="x n" style="width:38.18px;text-align:right;transform:translate(816.52px,375.45px) rotate(0.03deg) scaleY(1.06)">0,00</div>
<div class="x l" style="width:94.77px;text-align:left;transform:translate(87.04px,381.47px) rotate(0.03deg)">Всего по этапу 2020 года</div>
<div class="x n" style="width:38.68px;text-align:right;transform:translate(181.81px,381.50px) rotate(0.03deg) scaleY(1.06)">7&nbsp;441,22</div>
<div class="x n" style="width:38.43px;text-align:right;transform:translate(221.29px,381.44px) rotate(0.03deg) scaleY(1.06)">11,50</div>
<div class="x n" style="width:38.68px;text-align:right;transform:translate(260.52px,381.39px) rotate(0.03deg) scaleY(1.06)">11,50</div>
<div class="x n" style="width:38.93px;text-align:right;transform:translate(300.00px,381.35px) rotate(0.03deg) scaleY(1.06)">434&nbsp;238,50</div>
<div class="x n" style="width:38.18px;text-align:right;transform:translate(339.74px,381.33px) rotate(0.03deg) scaleY(1.06)">0,00</div>
<div class="x n" style="width:38.18px;text-align:right;transform:translate(378.72px,381.30px) rotate(0.03deg) scaleY(1.06)">0,00</div>
<div class="x n" style="width:39.18px;text-align:right;transform:translate(417.70px,381.29px) rotate(0.03deg) scaleY(1.06)">7&nbsp;429,72</div>
<div class="x n" style="width:38.18px;text-align:right;transform:translate(457.68px,381.29px) rotate(0.03deg) scaleY(1.06)">7&nbsp;429,72</div>
<div class="x n" style="width:41.18px;text-align:right;transform:translate(496.66px,381.30px) rotate(0.03deg) scaleY(1.06)">293&nbsp;466&nbsp;510,28</div>
<div class="x n" style="width:39.18px;text-align:right;transform:translate(538.65px,381.32px) rotate(0.03deg) scaleY(1.06)">2&nbsp;536,64</div>
<div class="x n" style="width:40.43px;text-align:right;transform:translate(578.63px,381.34px) rotate(0.03deg) scaleY(1.06)">132&nbsp;383&nbsp;921,36</div>
<div class="x n" style="width:39.18px;text-align:right;transform:translate(619.86px,381.38px) rotate(0.03deg) scaleY(1.06)">0,00</div>
<div class="x n" style="width:38.68px;text-align:right;transform:translate(659.84px,381.43px) rotate(0.03deg) scaleY(1.06)">0,00</div>
<div class="x n" style="width:37.73px;text-align:right;transform:translate(699.32px,381.48px) rotate(0.03deg) scaleY(1.06)">4&nbsp;893,08</div>
<div class="x n" style="width:39.13px;text-align:right;transform:translate(737.85px,381.55px) rotate(0.03deg) scaleY(1.06)">160&nbsp;081&nbsp;588,92</div>
<div class="x n" style="width:37.93px;text-align:right;transform:translate(777.79px,381.62px) rotate(0.03deg) scaleY(1.06)">0,00</div>
<div class="x n" style="width:38.18px;text-align:right;transform:translate(816.52px,381.70px) rotate(0.03deg) scaleY(1.06)">0,00</div>
<div class="x r" style="width:69.57px;transform:translate(46.23px,394.81px) rotate(0.03deg) scaleY(1.05)">1</div>
<div class="x l" style="width:94.77px;text-align:left;transform:translate(87.10px,391.29px) rotate(0.03deg)">Итого по Ковылкино (Ковылкинский</div>
<div class="x l" style="width:94.77px;text-align:left;transform:translate(87.10px,397.84px) rotate(0.03deg)">муниципальный район)</div>
<div class="x n" style="width:38.68px;text-align:right;transform:translate(181.87px,394.74px) rotate(0.03deg) scaleY(1.06)">2&nbsp;741,64</div>
<div class="x n" style="width:38.43px;text-align:right;transform:translate(221.35px,394.68px) rotate(0.03deg) scaleY(1.06)">0,00</div>
<div class="x n" style="width:38.68px;text-align:right;transform:translate(260.58px,394.63px) rotate(0.03deg) scaleY(1.06)">0,00</div>
<div class="x n" style="width:38.93px;text-align:right;transform:translate(300.06px,394.59px) rotate(0.03deg) scaleY(1.06)">0,00</div>
<div class="x n" style="width:38.18px;text-align:right;transform:translate(339.79px,394.56px) rotate(0.03deg) scaleY(1.06)">0,00</div>
<div class="x n" style="width:38.18px;text-align:right;transform:translate(378.76px,394.54px) rotate(0.03deg) scaleY(1.06)">0,00</div>
<div class="x n" style="width:39.18px;text-align:right;transform:translate(417.74px,394.53px) rotate(0.03deg) scaleY(1.06)">2&nbsp;741,64</div>
<div class="x n" style="width:38.18px;text-align:right;transform:translate(457.72px,394.53px) rotate(0.03deg) scaleY(1.06)">2&nbsp;741,64</div>
<div class="x n" style="width:41.18px;text-align:right;transform:translate(496.70px,394.53px) rotate(0.03deg) scaleY(1.06)">108&nbsp;292&nbsp;038,36</div>
<div class="x n" style="width:39.18px;text-align:right;transform:translate(538.68px,394.55px) rotate(0.03deg) scaleY(1.06)">2&nbsp;741,64</div>
<div class="x n" style="width:40.43px;text-align:right;transform:translate(578.65px,394.58px) rotate(0.03deg) scaleY(1.06)">108&nbsp;292&nbsp;038,36</div>
<div class="x n" style="width:39.18px;text-align:right;transform:translate(619.88px,394.62px) rotate(0.03deg) scaleY(1.06)">0,00</div>
<div class="x n" style="width:38.68px;text-align:right;transform:translate(659.86px,394.67px) rotate(0.03deg) scaleY(1.06)">0,00</div>
<div class="x n" style="width:37.73px;text-align:right;transform:translate(699.34px,394.72px) rotate(0.03deg) scaleY(1.06)">0,00</div>
<div class="x n" style="width:39.13px;text-align:right;transform:translate(737.87px,394.79px) rotate(0.03deg) scaleY(1.06)">0,00</div>
<div class="x n" style="width:37.93px;text-align:right;transform:translate(777.79px,394.86px) rotate(0.03deg) scaleY(1.06)">0,00</div>
<div class="x n" style="width:38.18px;text-align:right;transform:translate(816.52px,394.95px) rotate(0.03deg) scaleY(1.06)">0,00</div>
<div class="x r" style="width:69.55px;transform:translate(46.33px,411.66px) rotate(0.03deg) scaleY(1.05)">2</div>
<div class="x l" style="width:94.78px;text-align:left;transform:translate(87.18px,408.14px) rotate(0.03deg)">Итого по Рузаевка (Рузаевский</div>
<div class="x l" style="width:94.78px;text-align:left;transform:translate(87.18px,414.69px) rotate(0.03deg)">муниципальный район)</div>
<div class="x n" style="width:38.67px;text-align:right;transform:translate(181.95px,411.58px) rotate(0.03deg) scaleY(1.06)">1&nbsp;754,88</div>
<div class="x n" style="width:38.42px;text-align:right;transform:translate(221.43px,411.52px) rotate(0.03deg) scaleY(1.06)">0,00</div>
<div class="x n" style="width:38.67px;text-align:right;transform:translate(260.65px,411.47px) rotate(0.03deg) scaleY(1.06)">0,00</div>
<div class="x n" style="width:38.92px;text-align:right;transform:translate(300.12px,411.42px) rotate(0.03deg) scaleY(1.06)">0,00</div>
<div class="x n" style="width:38.17px;text-align:right;transform:translate(339.85px,411.39px) rotate(0.03deg) scaleY(1.06)">0,00</div>
<div class="x n" style="width:38.17px;text-align:right;transform:translate(378.82px,411.37px) rotate(0.03deg) scaleY(1.06)">0,00</div>
<div class="x n" style="width:39.17px;text-align:right;transform:translate(417.80px,411.36px) rotate(0.03deg) scaleY(1.06)">1&nbsp;754,88</div>
<div class="x n" style="width:38.17px;text-align:right;transform:translate(457.77px,411.36px) rotate(0.03deg) scaleY(1.06)">1&nbsp;754,88</div>
<div class="x n" style="width:41.17px;text-align:right;transform:translate(496.74px,411.36px) rotate(0.03deg) scaleY(1.06)">69&nbsp;316&nbsp;005,12</div>
<div class="x n" style="width:39.17px;text-align:right;transform:translate(538.71px,411.38px) rotate(0.03deg) scaleY(1.06)">0,00</div>
<div class="x n" style="width:40.42px;text-align:right;transform:translate(578.69px,411.41px) rotate(0.03deg) scaleY(1.06)">0,00</div>
<div class="x n" style="width:39.17px;text-align:right;transform:translate(619.91px,411.45px) rotate(0.03deg) scaleY(1.06)">0,00</div>
<div class="x n" style="width:38.67px;text-align:right;transform:translate(659.88px,411.50px) rotate(0.03deg) scaleY(1.06)">0,00</div>
<div class="x n" style="width:37.72px;text-align:right;transform:translate(699.36px,411.56px) rotate(0.03deg) scaleY(1.06)">1&nbsp;754,88</div>
<div class="x n" style="width:39.12px;text-align:right;transform:translate(737.88px,411.63px) rotate(0.03deg) scaleY(1.06)">69&nbsp;316&nbsp;005,12</div>
<div class="x n" style="width:37.92px;text-align:right;transform:translate(777.80px,411.71px) rotate(0.03deg) scaleY(1.06)">0,00</div>
<div class="x n" style="width:38.17px;text-align:right;transform:translate(816.53px,411.80px) rotate(0.03deg) scaleY(1.06)">0,00</div>
<div class="x r" style="width:69.54px;transform:translate(46.38px,421.24px) rotate(0.03deg) scaleY(1.05)">3</div>
<div class="x l" style="width:94.78px;text-align:left;transform:translate(87.22px,421.26px) rotate(0.03deg)">Итого по Саранск</div>
<div class="x n" style="width:38.67px;text-align:right;transform:translate(182.00px,421.37px) rotate(0.03deg) scaleY(1.06)">2&nbsp;318,20</div>
<div class="x n" style="width:38.42px;text-align:right;transform:translate(221.47px,421.31px) rotate(0.03deg) scaleY(1.06)">0,00</div>
<div class="x n" style="width:38.67px;text-align:right;transform:translate(260.69px,421.26px) rotate(0.03deg) scaleY(1.06)">0,00</div>
<div class="x n" style="width:38.92px;text-align:right;transform:translate(300.16px,421.21px) rotate(0.03deg) scaleY(1.06)">0,00</div>
<div class="x n" style="width:38.17px;text-align:right;transform:translate(339.88px,421.18px) rotate(0.03deg) scaleY(1.06)">0,00</div>
<div class="x n" style="width:38.17px;text-align:right;transform:translate(378.86px,421.16px) rotate(0.03deg) scaleY(1.06)">0,00</div>
<div class="x n" style="width:39.17px;text-align:right;transform:translate(417.83px,421.15px) rotate(0.03deg) scaleY(1.06)">2&nbsp;318,20</div>
<div class="x n" style="width:38.17px;text-align:right;transform:translate(457.80px,421.14px) rotate(0.03deg) scaleY(1.06)">2&nbsp;318,20</div>
<div class="x n" style="width:41.17px;text-align:right;transform:translate(496.77px,421.15px) rotate(0.03deg) scaleY(1.06)">91&nbsp;566&nbsp;581,80</div>
<div class="x n" style="width:39.17px;text-align:right;transform:translate(538.74px,421.17px) rotate(0.03deg) scaleY(1.06)">0,00</div>
<div class="x n" style="width:40.42px;text-align:right;transform:translate(578.71px,421.20px) rotate(0.03deg) scaleY(1.06)">0,00</div>
<div class="x n" style="width:39.17px;text-align:right;transform:translate(619.93px,421.24px) rotate(0.03deg) scaleY(1.06)">0,00</div>
<div class="x n" style="width:38.67px;text-align:right;transform:translate(659.90px,421.29px) rotate(0.03deg) scaleY(1.06)">0,00</div>
<div class="x n" style="width:37.72px;text-align:right;transform:translate(699.37px,421.35px) rotate(0.03deg) scaleY(1.06)">2&nbsp;318,20</div>
<div class="x n" style="width:39.12px;text-align:right;transform:translate(737.89px,421.42px) rotate(0.03deg) scaleY(1.06)">91&nbsp;566&nbsp;581,80</div>
<div class="x n" style="width:37.92px;text-align:right;transform:translate(777.81px,421.51px) rotate(0.03deg) scaleY(1.06)">0,00</div>
<div class="x n" style="width:38.17px;text-align:right;transform:translate(816.53px,421.59px) rotate(0.03deg) scaleY(1.06)">0,00</div>
<div class="x r" style="width:69.53px;transform:translate(46.43px,431.11px) rotate(0.03deg) scaleY(1.05)">4</div>
<div class="x l" style="width:94.78px;text-align:left;transform:translate(87.27px,427.58px) rotate(0.03deg)">Итого по Старошайговский</div>
<div class="x l" style="width:94.78px;text-align:left;transform:translate(87.27px,434.13px) rotate(0.03deg)">муниципальный район</div>
<div class="x n" style="width:38.67px;text-align:right;transform:translate(182.05px,431.02px) rotate(0.03deg) scaleY(1.06)">626,50</div>
<div class="x n" style="width:38.42px;text-align:right;transform:translate(221.52px,430.95px) rotate(0.03deg) scaleY(1.06)">11,50</div>
<div class="x n" style="width:38.67px;text-align:right;transform:translate(260.73px,430.90px) rotate(0.03deg) scaleY(1.06)">11,50</div>
<div class="x n" style="width:38.92px;text-align:right;transform:translate(300.20px,430.85px) rotate(0.03deg) scaleY(1.06)">434&nbsp;238,50</div>
<div class="x n" style="width:38.17px;text-align:right;transform:translate(339.92px,430.82px) rotate(0.03deg) scaleY(1.06)">0,00</div>
<div class="x n" style="width:38.17px;text-align:right;transform:translate(378.89px,430.80px) rotate(0.03deg) scaleY(1.06)">0,00</div>
<div class="x n" style="width:39.17px;text-align:right;transform:translate(417.86px,430.79px) rotate(0.03deg) scaleY(1.06)">615,00</div>
<div class="x n" style="width:38.17px;text-align:right;transform:translate(457.82px,430.78px) rotate(0.03deg) scaleY(1.06)">615,00</div>
<div class="x n" style="width:41.17px;text-align:right;transform:translate(496.79px,430.79px) rotate(0.03deg) scaleY(1.06)">24&nbsp;291&nbsp;885,00</div>
<div class="x n" style="width:39.17px;text-align:right;transform:translate(538.76px,430.81px) rotate(0.03deg) scaleY(1.06)">615,00</div>
<div class="x n" style="width:40.42px;text-align:right;transform:translate(578.73px,430.84px) rotate(0.03deg) scaleY(1.06)">24&nbsp;291&nbsp;885,00</div>
<div class="x n" style="width:39.17px;text-align:right;transform:translate(619.94px,430.88px) rotate(0.03deg) scaleY(1.06)">0,00</div>
<div class="x n" style="width:38.67px;text-align:right;transform:translate(659.91px,430.94px) rotate(0.03deg) scaleY(1.06)">0,00</div>
<div class="x n" style="width:37.72px;text-align:right;transform:translate(699.38px,431.00px) rotate(0.03deg) scaleY(1.06)">0,00</div>
<div class="x n" style="width:39.12px;text-align:right;transform:translate(737.90px,431.07px) rotate(0.03deg) scaleY(1.06)">0,00</div>
<div class="x n" style="width:37.92px;text-align:right;transform:translate(777.81px,431.15px) rotate(0.03deg) scaleY(1.06)">0,00</div>
<div class="x n" style="width:38.17px;text-align:right;transform:translate(816.53px,431.24px) rotate(0.03deg) scaleY(1.06)">0,00</div>
<div class="x l" style="width:94.79px;text-align:left;transform:translate(87.31px,441.05px) rotate(0.03deg)">Всего по этапу 2021 года</div>
<div class="x n" style="width:38.67px;text-align:right;transform:translate(182.10px,440.96px) rotate(0.03deg) scaleY(1.06)">7&nbsp;441,22</div>
<div class="x n" style="width:38.42px;text-align:right;transform:translate(221.56px,440.90px) rotate(0.03deg) scaleY(1.06)">0,00</div>
<div class="x n" style="width:38.67px;text-align:right;transform:translate(260.78px,440.84px) rotate(0.03deg) scaleY(1.06)">0,00</div>
<div class="x n" style="width:38.91px;text-align:right;transform:translate(300.24px,440.79px) rotate(0.03deg) scaleY(1.06)">0,00</div>
<div class="x n" style="width:38.17px;text-align:right;transform:translate(339.96px,440.76px) rotate(0.03deg) scaleY(1.06)">0,00</div>
<div class="x n" style="width:38.17px;text-align:right;transform:translate(378.92px,440.74px) rotate(0.03deg) scaleY(1.06)">0,00</div>
<div class="x n" style="width:39.16px;text-align:right;transform:translate(417.89px,440.72px) rotate(0.03deg) scaleY(1.06)">7&nbsp;441,22</div>
<div class="x n" style="width:38.17px;text-align:right;transform:translate(457.85px,440.72px) rotate(0.03deg) scaleY(1.06)">7&nbsp;441,22</div>
<div class="x n" style="width:41.16px;text-align:right;transform:translate(496.82px,440.73px) rotate(0.03deg) scaleY(1.06)">293&nbsp;920&nbsp;748,77</div>
<div class="x n" style="width:39.16px;text-align:right;transform:translate(538.78px,440.75px) rotate(0.03deg) scaleY(1.06)">1&nbsp;525,40</div>
<div class="x n" style="width:40.41px;text-align:right;transform:translate(578.75px,440.78px) rotate(0.03deg) scaleY(1.06)">60&nbsp;239&nbsp;924,90</div>
<div class="x n" style="width:39.16px;text-align:right;transform:translate(619.96px,440.83px) rotate(0.03deg) scaleY(1.06)">0,00</div>
<div class="x n" style="width:38.67px;text-align:right;transform:translate(659.92px,440.88px) rotate(0.03deg) scaleY(1.06)">0,00</div>
<div class="x n" style="width:37.72px;text-align:right;transform:translate(699.39px,440.94px) rotate(0.03deg) scaleY(1.06)">5&nbsp;916,12</div>
<div class="x n" style="width:39.11px;text-align:right;transform:translate(737.90px,441.01px) rotate(0.03deg) scaleY(1.06)">233&nbsp;680&nbsp;823,87</div>
<div class="x n" style="width:37.92px;text-align:right;transform:translate(777.82px,441.10px) rotate(0.03deg) scaleY(1.06)">0,00</div>
<div class="x n" style="width:38.17px;text-align:right;transform:translate(816.53px,441.19px) rotate(0.03deg) scaleY(1.06)">0,00</div>
<div class="x r" style="width:69.51px;transform:translate(46.55px,451.16px) rotate(0.03deg) scaleY(1.05)">1</div>
<div class="x l" style="width:94.79px;text-align:left;transform:translate(87.36px,447.63px) rotate(0.03deg)">Итого по Ардатов (Ардатовский</div>
<div class="x l" style="width:94.79px;text-align:left;transform:translate(87.36px,454.17px) rotate(0.03deg)">муниципальный район)</div>
<div class="x n" style="width:38.66px;text-align:right;transform:translate(182.15px,451.05px) rotate(0.03deg) scaleY(1.06)">266,60</div>
<div class="x n" style="width:38.41px;text-align:right;transform:translate(221.61px,450.99px) rotate(0.03deg) scaleY(1.06)">0,00</div>
<div class="x n" style="width:38.66px;text-align:right;transform:translate(260.82px,450.93px) rotate(0.03deg) scaleY(1.06)">0,00</div>
<div class="x n" style="width:38.91px;text-align:right;transform:translate(300.28px,450.88px) rotate(0.03deg) scaleY(1.06)">0,00</div>
<div class="x n" style="width:38.16px;text-align:right;transform:translate(339.99px,450.85px) rotate(0.03deg) scaleY(1.06)">0,00</div>
<div class="x n" style="width:38.16px;text-align:right;transform:translate(378.96px,450.83px) rotate(0.03deg) scaleY(1.06)">0,00</div>
<div class="x n" style="width:39.16px;text-align:right;transform:translate(417.92px,450.81px) rotate(0.03deg) scaleY(1.06)">266,60</div>
<div class="x n" style="width:38.16px;text-align:right;transform:translate(457.88px,450.81px) rotate(0.03deg) scaleY(1.06)">266,60</div>
<div class="x n" style="width:41.16px;text-align:right;transform:translate(496.84px,450.82px) rotate(0.03deg) scaleY(1.06)">10&nbsp;530&nbsp;433,40</div>
<div class="x n" style="width:39.16px;text-align:right;transform:translate(538.80px,450.84px) rotate(0.03deg) scaleY(1.06)">266,60</div>
<div class="x n" style="width:40.41px;text-align:right;transform:translate(578.77px,450.87px) rotate(0.03deg) scaleY(1.06)">10&nbsp;530&nbsp;433,40</div>
<div class="x n" style="width:39.16px;text-align:right;transform:translate(619.98px,450.92px) rotate(0.03deg) scaleY(1.06)">0,00</div>
<div class="x n" style="width:38.66px;text-align:right;transform:translate(659.94px,450.97px) rotate(0.03deg) scaleY(1.06)">0,00</div>
<div class="x n" style="width:37.71px;text-align:right;transform:translate(699.40px,451.03px) rotate(0.03deg) scaleY(1.06)">0,00</div>
<div class="x n" style="width:39.11px;text-align:right;transform:translate(737.91px,451.11px) rotate(0.03deg) scaleY(1.06)">0,00</div>
<div class="x n" style="width:37.91px;text-align:right;transform:translate(777.82px,451.20px) rotate(0.03deg) scaleY(1.06)">0,00</div>
<div class="x n" style="width:38.16px;text-align:right;transform:translate(816.54px,451.29px) rotate(0.03deg) scaleY(1.06)">0,00</div>
<div class="x r" style="width:69.49px;transform:translate(46.64px,468.06px) rotate(0.03deg) scaleY(1.05)">2</div>
<div class="x l" style="width:94.80px;text-align:left;transform:translate(87.43px,464.52px) rotate(0.03deg)">Итого по Тургеневское (Ардатовский</div>
<div class="x l" style="width:94.80px;text-align:left;transform:translate(87.43px,471.07px) rotate(0.03deg)">муниципальный район)</div>
<div class="x n" style="width:38.66px;text-align:right;transform:translate(182.23px,467.94px) rotate(0.03deg) scaleY(1.06)">1&nbsp;020,00</div>
<div class="x n" style="width:38.41px;text-align:right;transform:translate(221.68px,467.87px) rotate(0.03deg) scaleY(1.06)">0,00</div>
<div class="x n" style="width:38.66px;text-align:right;transform:translate(260.89px,467.81px) rotate(0.03deg) scaleY(1.06)">0,00</div>
<div class="x n" style="width:38.91px;text-align:right;transform:translate(300.35px,467.77px) rotate(0.03deg) scaleY(1.06)">0,00</div>
<div class="x n" style="width:38.16px;text-align:right;transform:translate(340.06px,467.73px) rotate(0.03deg) scaleY(1.06)">0,00</div>
<div class="x n" style="width:38.16px;text-align:right;transform:translate(379.01px,467.71px) rotate(0.03deg) scaleY(1.06)">0,00</div>
<div class="x n" style="width:39.16px;text-align:right;transform:translate(417.97px,467.69px) rotate(0.03deg) scaleY(1.06)">1&nbsp;020,00</div>
<div class="x n" style="width:38.16px;text-align:right;transform:translate(457.93px,467.69px) rotate(0.03deg) scaleY(1.06)">1&nbsp;020,00</div>
<div class="x n" style="width:41.15px;text-align:right;transform:translate(496.89px,467.70px) rotate(0.03deg) scaleY(1.06)">40&nbsp;288&nbsp;980,00</div>
<div class="x n" style="width:39.16px;text-align:right;transform:translate(538.84px,467.72px) rotate(0.03deg) scaleY(1.06)">1&nbsp;020,00</div>
<div class="x n" style="width:40.41px;text-align:right;transform:translate(578.80px,467.75px) rotate(0.03deg) scaleY(1.06)">40&nbsp;288&nbsp;980,00</div>
<div class="x n" style="width:39.16px;text-align:right;transform:translate(620.00px,467.80px) rotate(0.03deg) scaleY(1.06)">0,00</div>
<div class="x n" style="width:38.66px;text-align:right;transform:translate(659.96px,467.86px) rotate(0.03deg) scaleY(1.06)">0,00</div>
<div class="x n" style="width:37.71px;text-align:right;transform:translate(699.42px,467.92px) rotate(0.03deg) scaleY(1.06)">0,00</div>
<div class="x n" style="width:39.11px;text-align:right;transform:translate(737.93px,468.00px) rotate(0.03deg) scaleY(1.06)">0,00</div>
<div class="x n" style="width:37.91px;text-align:right;transform:translate(777.83px,468.09px) rotate(0.03deg) scaleY(1.06)">0,00</div>
<div class="x n" style="width:38.16px;text-align:right;transform:translate(816.54px,468.19px) rotate(0.03deg) scaleY(1.06)">0,00</div>
<div class="x r" style="width:69.47px;transform:translate(46.74px,485.11px) rotate(0.03deg) scaleY(1.05)">3</div>
<div class="x l" style="width:94.80px;text-align:left;transform:translate(87.51px,481.56px) rotate(0.03deg)">Итого по Атюрьевский муниципальный</div>
<div class="x l" style="width:94.80px;text-align:left;transform:translate(87.51px,488.11px) rotate(0.03deg)">район</div>
<div class="x n" style="width:38.65px;text-align:right;transform:translate(182.31px,484.98px) rotate(0.03deg) scaleY(1.06)">60,40</div>
<div class="x n" style="width:38.40px;text-align:right;transform:translate(221.76px,484.91px) rotate(0.03deg) scaleY(1.06)">0,00</div>
<div class="x n" style="width:38.65px;text-align:right;transform:translate(260.97px,484.85px) rotate(0.03deg) scaleY(1.06)">0,00</div>
<div class="x n" style="width:38.90px;text-align:right;transform:translate(300.42px,484.80px) rotate(0.03deg) scaleY(1.06)">0,00</div>
<div class="x n" style="width:38.15px;text-align:right;transform:translate(340.12px,484.76px) rotate(0.03deg) scaleY(1.06)">0,00</div>
<div class="x n" style="width:38.15px;text-align:right;transform:translate(379.07px,484.74px) rotate(0.03deg) scaleY(1.06)">0,00</div>
<div class="x n" style="width:39.15px;text-align:right;transform:translate(418.03px,484.72px) rotate(0.03deg) scaleY(1.06)">60,40</div>
<div class="x n" style="width:38.15px;text-align:right;transform:translate(457.98px,484.72px) rotate(0.03deg) scaleY(1.06)">60,40</div>
<div class="x n" style="width:41.15px;text-align:right;transform:translate(496.93px,484.73px) rotate(0.03deg) scaleY(1.06)">2&nbsp;385&nbsp;739,60</div>
<div class="x n" style="width:39.15px;text-align:right;transform:translate(538.88px,484.75px) rotate(0.03deg) scaleY(1.06)">60,40</div>
<div class="x n" style="width:40.40px;text-align:right;transform:translate(578.83px,484.79px) rotate(0.03deg) scaleY(1.06)">2&nbsp;385&nbsp;739,60</div>
<div class="x n" style="width:39.15px;text-align:right;transform:translate(620.03px,484.83px) rotate(0.03deg) scaleY(1.06)">0,00</div>
<div class="x n" style="width:38.65px;text-align:right;transform:translate(659.99px,484.89px) rotate(0.03deg) scaleY(1.06)">0,00</div>
<div class="x n" style="width:37.70px;text-align:right;transform:translate(699.44px,484.96px) rotate(0.03deg) scaleY(1.06)">0,00</div>
<div class="x n" style="width:39.10px;text-align:right;transform:translate(737.94px,485.04px) rotate(0.03deg) scaleY(1.06)">0,00</div>
<div class="x n" style="width:37.90px;text-align:right;transform:translate(777.84px,485.13px) rotate(0.03deg) scaleY(1.06)">0,00</div>
<div class="x n" style="width:38.15px;text-align:right;transform:translate(816.55px,485.24px) rotate(0.03deg) scaleY(1.06)">0,00</div>
<div class="x r" style="width:69.46px;transform:translate(46.81px,498.70px) rotate(0.03deg) scaleY(1.05)">4</div>
<div class="x l" style="width:94.81px;text-align:left;transform:translate(87.57px,495.16px) rotate(0.03deg)">Итого по Кочкуровский муниципальный</div>
<div class="x l" style="width:94.81px;text-align:left;transform:translate(87.57px,501.71px) rotate(0.03deg)">район</div>
<div class="x n" style="width:38.65px;text-align:right;transform:translate(182.38px,498.57px) rotate(0.03deg) scaleY(1.06)">832,80</div>
<div class="x n" style="width:38.40px;text-align:right;transform:translate(221.82px,498.50px) rotate(0.03deg) scaleY(1.06)">0,00</div>
<div class="x n" style="width:38.65px;text-align:right;transform:translate(261.02px,498.44px) rotate(0.03deg) scaleY(1.06)">0,00</div>
<div class="x n" style="width:38.90px;text-align:right;transform:translate(300.47px,498.39px) rotate(0.03deg) scaleY(1.06)">0,00</div>
<div class="x n" style="width:38.15px;text-align:right;transform:translate(340.17px,498.35px) rotate(0.03deg) scaleY(1.06)">0,00</div>
<div class="x n" style="width:38.15px;text-align:right;transform:translate(379.12px,498.32px) rotate(0.03deg) scaleY(1.06)">0,00</div>
<div class="x n" style="width:39.15px;text-align:right;transform:translate(418.07px,498.31px) rotate(0.03deg) scaleY(1.06)">832,80</div>
<div class="x n" style="width:38.15px;text-align:right;transform:translate(458.02px,498.30px) rotate(0.03deg) scaleY(1.06)">832,80</div>
<div class="x n" style="width:41.15px;text-align:right;transform:translate(496.97px,498.31px) rotate(0.03deg) scaleY(1.06)">32&nbsp;894&nbsp;767,19</div>
<div class="x n" style="width:39.15px;text-align:right;transform:translate(538.91px,498.34px) rotate(0.03deg) scaleY(1.06)">0,00</div>
<div class="x n" style="width:40.40px;text-align:right;transform:translate(578.86px,498.37px) rotate(0.03deg) scaleY(1.06)">0,00</div>
<div class="x n" style="width:39.15px;text-align:right;transform:translate(620.06px,498.42px) rotate(0.03deg) scaleY(1.06)">0,00</div>
<div class="x n" style="width:38.65px;text-align:right;transform:translate(660.00px,498.48px) rotate(0.03deg) scaleY(1.06)">0,00</div>
<div class="x n" style="width:37.70px;text-align:right;transform:translate(699.45px,498.55px) rotate(0.03deg) scaleY(1.06)">832,80</div>
<div class="x n" style="width:39.10px;text-align:right;transform:translate(737.95px,498.63px) rotate(0.03deg) scaleY(1.06)">32&nbsp;894&nbsp;767,19</div>
<div class="x n" style="width:37.90px;text-align:right;transform:translate(777.85px,498.73px) rotate(0.03deg) scaleY(1.06)">0,00</div>
<div class="x n" style="width:38.15px;text-align:right;transform:translate(816.55px,498.84px) rotate(0.03deg) scaleY(1.06)">0,00</div>
<div class="x r" style="width:69.44px;transform:translate(46.89px,512.00px) rotate(0.03deg) scaleY(1.05)">5</div>
<div class="x l" style="width:94.81px;text-align:left;transform:translate(87.63px,508.46px) rotate(0.03deg)">Итого по Ромодановский</div>
<div class="x l" style="width:94.81px;text-align:left;transform:translate(87.63px,515.00px) rotate(0.03deg)">муниципальный район</div>
<div class="x n" style="width:38.64px;text-align:right;transform:translate(182.44px,511.87px) rotate(0.03deg) scaleY(1.06)">1&nbsp;328,57</div>
<div class="x n" style="width:38.40px;text-align:right;transform:translate(221.89px,511.79px) rotate(0.03deg) scaleY(1.06)">0,00</div>
<div class="x n" style="width:38.64px;text-align:right;transform:translate(261.08px,511.72px) rotate(0.03deg) scaleY(1.06)">0,00</div>
<div class="x n" style="width:38.89px;text-align:right;transform:translate(300.53px,511.67px) rotate(0.03deg) scaleY(1.06)">0,00</div>
<div class="x n" style="width:38.15px;text-align:right;transform:translate(340.22px,511.63px) rotate(0.03deg) scaleY(1.06)">0,00</div>
<div class="x n" style="width:38.15px;text-align:right;transform:translate(379.17px,511.61px) rotate(0.03deg) scaleY(1.06)">0,00</div>
<div class="x n" style="width:39.14px;text-align:right;transform:translate(418.11px,511.59px) rotate(0.03deg) scaleY(1.06)">1&nbsp;328,57</div>
<div class="x n" style="width:38.15px;text-align:right;transform:translate(458.06px,511.59px) rotate(0.03deg) scaleY(1.06)">1&nbsp;328,57</div>
<div class="x n" style="width:41.14px;text-align:right;transform:translate(497.00px,511.60px) rotate(0.03deg) scaleY(1.06)">52&nbsp;477&nbsp;186,42</div>
<div class="x n" style="width:39.14px;text-align:right;transform:translate(538.94px,511.62px) rotate(0.03deg) scaleY(1.06)">0,00</div>
<div class="x n" style="width:40.39px;text-align:right;transform:translate(578.89px,511.66px) rotate(0.03deg) scaleY(1.06)">0,00</div>
<div class="x n" style="width:39.14px;text-align:right;transform:translate(620.08px,511.71px) rotate(0.03deg) scaleY(1.06)">0,00</div>
<div class="x n" style="width:38.64px;text-align:right;transform:translate(660.02px,511.77px) rotate(0.03deg) scaleY(1.06)">0,00</div>
<div class="x n" style="width:37.70px;text-align:right;transform:translate(699.47px,511.84px) rotate(0.03deg) scaleY(1.06)">1&nbsp;328,57</div>
<div class="x n" style="width:39.09px;text-align:right;transform:translate(737.96px,511.93px) rotate(0.03deg) scaleY(1.06)">52&nbsp;477&nbsp;186,42</div>
<div class="x n" style="width:37.90px;text-align:right;transform:translate(777.86px,512.03px) rotate(0.03deg) scaleY(1.06)">0,00</div>
<div class="x n" style="width:38.15px;text-align:right;transform:translate(816.55px,512.13px) rotate(0.03deg) scaleY(1.06)">0,00</div>
<div class="x r" style="width:69.43px;transform:translate(46.94px,522.03px) rotate(0.03deg) scaleY(1.05)">6</div>
<div class="x l" style="width:94.81px;text-align:left;transform:translate(87.67px,522.03px) rotate(0.03deg)">Итого по Саранск</div>
<div class="x n" style="width:38.64px;text-align:right;transform:translate(182.49px,521.91px) rotate(0.03deg) scaleY(1.06)">3&nbsp;754,75</div>
<div class="x n" style="width:38.39px;text-align:right;transform:translate(221.93px,521.83px) rotate(0.03deg) scaleY(1.06)">0,00</div>
<div class="x n" style="width:38.64px;text-align:right;transform:translate(261.12px,521.77px) rotate(0.03deg) scaleY(1.06)">0,00</div>
<div class="x n" style="width:38.89px;text-align:right;transform:translate(300.57px,521.71px) rotate(0.03deg) scaleY(1.06)">0,00</div>
<div class="x n" style="width:38.14px;text-align:right;transform:translate(340.26px,521.67px) rotate(0.03deg) scaleY(1.06)">0,00</div>
<div class="x n" style="width:38.14px;text-align:right;transform:translate(379.20px,521.64px) rotate(0.03deg) scaleY(1.06)">0,00</div>
<div class="x n" style="width:39.14px;text-align:right;transform:translate(418.14px,521.63px) rotate(0.03deg) scaleY(1.06)">3&nbsp;754,75</div>
<div class="x n" style="width:38.14px;text-align:right;transform:translate(458.08px,521.63px) rotate(0.03deg) scaleY(1.06)">3&nbsp;754,75</div>
<div class="x n" style="width:41.14px;text-align:right;transform:translate(497.03px,521.64px) rotate(0.03deg) scaleY(1.06)">148&nbsp;308&nbsp;870,25</div>
<div class="x n" style="width:39.14px;text-align:right;transform:translate(538.97px,521.66px) rotate(0.03deg) scaleY(1.06)">0,00</div>
<div class="x n" style="width:40.39px;text-align:right;transform:translate(578.91px,521.70px) rotate(0.03deg) scaleY(1.06)">0,00</div>
<div class="x n" style="width:39.14px;text-align:right;transform:translate(620.10px,521.75px) rotate(0.03deg) scaleY(1.06)">0,00</div>
<div class="x n" style="width:38.64px;text-align:right;transform:translate(660.04px,521.81px) rotate(0.03deg) scaleY(1.06)">0,00</div>
<div class="x n" style="width:37.69px;text-align:right;transform:translate(699.48px,521.89px) rotate(0.03deg) scaleY(1.06)">3&nbsp;754,75</div>
<div class="x n" style="width:39.09px;text-align:right;transform:translate(737.97px,521.97px) rotate(0.03deg) scaleY(1.06)">148&nbsp;308&nbsp;870,25</div>
<div class="x n" style="width:37.89px;text-align:right;transform:translate(777.86px,522.07px) rotate(0.03deg) scaleY(1.06)">0,00</div>
<div class="x n" style="width:38.14px;text-align:right;transform:translate(816.56px,522.18px) rotate(0.03deg) scaleY(1.06)">0,00</div>
<div class="x r" style="width:69.42px;transform:translate(47.00px,532.15px) rotate(0.03deg) scaleY(1.05)">7</div>
<div class="x l" style="width:94.82px;text-align:left;transform:translate(87.72px,528.60px) rotate(0.03deg)">Итого по Старошайговский</div>
<div class="x l" style="width:94.82px;text-align:left;transform:translate(87.72px,535.15px) rotate(0.03deg)">муниципальный район</div>
<div class="x n" style="width:38.64px;text-align:right;transform:translate(182.54px,532.00px) rotate(0.03deg) scaleY(1.06)">178,10</div>
<div class="x n" style="width:38.39px;text-align:right;transform:translate(221.98px,531.92px) rotate(0.03deg) scaleY(1.06)">0,00</div>
<div class="x n" style="width:38.64px;text-align:right;transform:translate(261.17px,531.86px) rotate(0.03deg) scaleY(1.06)">0,00</div>
<div class="x n" style="width:38.89px;text-align:right;transform:translate(300.61px,531.80px) rotate(0.03deg) scaleY(1.06)">0,00</div>
<div class="x n" style="width:38.14px;text-align:right;transform:translate(340.29px,531.76px) rotate(0.03deg) scaleY(1.06)">0,00</div>
<div class="x n" style="width:38.14px;text-align:right;transform:translate(379.23px,531.73px) rotate(0.03deg) scaleY(1.06)">0,00</div>
<div class="x n" style="width:39.14px;text-align:right;transform:translate(418.17px,531.72px) rotate(0.03deg) scaleY(1.06)">178,10</div>
<div class="x n" style="width:38.14px;text-align:right;transform:translate(458.11px,531.71px) rotate(0.03deg) scaleY(1.06)">178,10</div>
<div class="x n" style="width:41.14px;text-align:right;transform:translate(497.05px,531.73px) rotate(0.03deg) scaleY(1.06)">7&nbsp;034&nbsp;771,90</div>
<div class="x n" style="width:39.14px;text-align:right;transform:translate(538.99px,531.75px) rotate(0.03deg) scaleY(1.06)">178,10</div>
<div class="x n" style="width:40.39px;text-align:right;transform:translate(578.93px,531.79px) rotate(0.03deg) scaleY(1.06)">7&nbsp;034&nbsp;771,90</div>
<div class="x n" style="width:39.14px;text-align:right;transform:translate(620.11px,531.84px) rotate(0.03deg) scaleY(1.06)">0,00</div>
<div class="x n" style="width:38.64px;text-align:right;transform:translate(660.05px,531.90px) rotate(0.03deg) scaleY(1.06)">0,00</div>
<div class="x n" style="width:37.69px;text-align:right;transform:translate(699.49px,531.98px) rotate(0.03deg) scaleY(1.06)">0,00</div>
<div class="x n" style="width:39.09px;text-align:right;transform:translate(737.98px,532.07px) rotate(0.03deg) scaleY(1.06)">0,00</div>
<div class="x n" style="width:37.89px;text-align:right;transform:translate(777.87px,532.17px) rotate(0.03deg) scaleY(1.06)">0,00</div>
<div class="x n" style="width:38.14px;text-align:right;transform:translate(816.56px,532.28px) rotate(0.03deg) scaleY(1.06)">0,00</div>
<div class="x l" style="width:94.82px;text-align:left;transform:translate(87.77px,542.32px) rotate(0.03deg)">Всего по этапу 2022 года</div>
<div class="x n" style="width:38.64px;text-align:right;transform:translate(182.59px,542.20px) rotate(0.03deg) scaleY(1.06)">19&nbsp;418,08</div>
<div class="x n" style="width:38.39px;text-align:right;transform:translate(222.02px,542.11px) rotate(0.03deg) scaleY(1.06)">0,00</div>
<div class="x n" style="width:38.64px;text-align:right;transform:translate(261.21px,542.05px) rotate(0.03deg) scaleY(1.06)">0,00</div>
<div class="x n" style="width:38.89px;text-align:right;transform:translate(300.65px,541.99px) rotate(0.03deg) scaleY(1.06)">0,00</div>
<div class="x n" style="width:38.14px;text-align:right;transform:translate(340.33px,541.95px) rotate(0.03deg) scaleY(1.06)">0,00</div>
<div class="x n" style="width:38.14px;text-align:right;transform:translate(379.27px,541.92px) rotate(0.03deg) scaleY(1.06)">0,00</div>
<div class="x n" style="width:39.14px;text-align:right;transform:translate(418.21px,541.91px) rotate(0.03deg) scaleY(1.06)">19&nbsp;418,08</div>
<div class="x n" style="width:38.14px;text-align:right;transform:translate(458.14px,541.90px) rotate(0.03deg) scaleY(1.06)">19&nbsp;418,08</div>
<div class="x n" style="width:41.13px;text-align:right;transform:translate(497.08px,541.91px) rotate(0.03deg) scaleY(1.06)">800&nbsp;742&nbsp;568,29</div>
<div class="x n" style="width:39.14px;text-align:right;transform:translate(539.01px,541.94px) rotate(0.03deg) scaleY(1.06)">12&nbsp;593,92</div>
<div class="x n" style="width:40.38px;text-align:right;transform:translate(578.95px,541.98px) rotate(0.03deg) scaleY(1.06)">519&nbsp;318&nbsp;480,48</div>
<div class="x n" style="width:39.14px;text-align:right;transform:translate(620.13px,542.03px) rotate(0.03deg) scaleY(1.06)">0,00</div>
<div class="x n" style="width:38.64px;text-align:right;transform:translate(660.07px,542.10px) rotate(0.03deg) scaleY(1.06)">0,00</div>
<div class="x n" style="width:37.69px;text-align:right;transform:translate(699.50px,542.17px) rotate(0.03deg) scaleY(1.06)">6&nbsp;824,16</div>
<div class="x n" style="width:39.09px;text-align:right;transform:translate(737.99px,542.26px) rotate(0.03deg) scaleY(1.06)">281&nbsp;424&nbsp;107,73</div>
<div class="x n" style="width:37.89px;text-align:right;transform:translate(777.88px,542.37px) rotate(0.03deg) scaleY(1.06)">0,00</div>
<div class="x n" style="width:38.14px;text-align:right;transform:translate(816.56px,542.48px) rotate(0.03deg) scaleY(1.06)">0,00</div>
<div class="x r" style="width:69.39px;transform:translate(47.13px,556.00px) rotate(0.03deg) scaleY(1.05)">1</div>
<div class="x l" style="width:94.83px;text-align:left;transform:translate(87.83px,552.44px) rotate(0.03deg)">Итого по Тургеневское (Ардатовский</div>
<div class="x l" style="width:94.83px;text-align:left;transform:translate(87.83px,558.99px) rotate(0.03deg)">муниципальный район)</div>
<div class="x n" style="width:38.63px;text-align:right;transform:translate(182.65px,555.84px) rotate(0.03deg) scaleY(1.06)">532,20</div>
<div class="x n" style="width:38.38px;text-align:right;transform:translate(222.09px,555.75px) rotate(0.03deg) scaleY(1.06)">0,00</div>
<div class="x n" style="width:38.63px;text-align:right;transform:translate(261.27px,555.68px) rotate(0.03deg) scaleY(1.06)">0,00</div>
<div class="x n" style="width:38.88px;text-align:right;transform:translate(300.70px,555.63px) rotate(0.03deg) scaleY(1.06)">0,00</div>
<div class="x n" style="width:38.13px;text-align:right;transform:translate(340.38px,555.59px) rotate(0.03deg) scaleY(1.06)">0,00</div>
<div class="x n" style="width:38.13px;text-align:right;transform:translate(379.32px,555.56px) rotate(0.03deg) scaleY(1.06)">0,00</div>
<div class="x n" style="width:39.13px;text-align:right;transform:translate(418.25px,555.54px) rotate(0.03deg) scaleY(1.06)">532,20</div>
<div class="x n" style="width:38.13px;text-align:right;transform:translate(458.18px,555.54px) rotate(0.03deg) scaleY(1.06)">532,20</div>
<div class="x n" style="width:41.13px;text-align:right;transform:translate(497.11px,555.55px) rotate(0.03deg) scaleY(1.06)">21&nbsp;946&nbsp;310,11</div>
<div class="x n" style="width:39.13px;text-align:right;transform:translate(539.04px,555.57px) rotate(0.03deg) scaleY(1.06)">532,20</div>
<div class="x n" style="width:40.38px;text-align:right;transform:translate(578.97px,555.61px) rotate(0.03deg) scaleY(1.06)">21&nbsp;946&nbsp;310,11</div>
<div class="x n" style="width:39.13px;text-align:right;transform:translate(620.15px,555.67px) rotate(0.03deg) scaleY(1.06)">0,00</div>
<div class="x n" style="width:38.63px;text-align:right;transform:translate(660.08px,555.73px) rotate(0.03deg) scaleY(1.06)">0,00</div>
<div class="x n" style="width:37.68px;text-align:right;transform:translate(699.52px,555.81px) rotate(0.03deg) scaleY(1.06)">0,00</div>
<div class="x n" style="width:39.08px;text-align:right;transform:translate(738.00px,555.91px) rotate(0.03deg) scaleY(1.06)">0,00</div>
<div class="x n" style="width:37.88px;text-align:right;transform:translate(777.88px,556.01px) rotate(0.03deg) scaleY(1.06)">0,00</div>
<div class="x n" style="width:38.13px;text-align:right;transform:translate(816.57px,556.13px) rotate(0.03deg) scaleY(1.06)">0,00</div>
<div class="x r" style="width:69.37px;transform:translate(47.23px,573.35px) rotate(0.03deg) scaleY(1.05)">2</div>
<div class="x l" style="width:94.83px;text-align:left;transform:translate(87.91px,569.78px) rotate(0.03deg)">Итого по Большеигнатовский</div>
<div class="x l" style="width:94.83px;text-align:left;transform:translate(87.91px,576.33px) rotate(0.03deg)">муниципальный район</div>
<div class="x n" style="width:38.63px;text-align:right;transform:translate(182.74px,573.18px) rotate(0.03deg) scaleY(1.06)">699,60</div>
<div class="x n" style="width:38.38px;text-align:right;transform:translate(222.16px,573.09px) rotate(0.03deg) scaleY(1.06)">0,00</div>
<div class="x n" style="width:38.63px;text-align:right;transform:translate(261.34px,573.02px) rotate(0.03deg) scaleY(1.06)">0,00</div>
<div class="x n" style="width:38.88px;text-align:right;transform:translate(300.77px,572.96px) rotate(0.03deg) scaleY(1.06)">0,00</div>
<div class="x n" style="width:38.13px;text-align:right;transform:translate(340.45px,572.92px) rotate(0.03deg) scaleY(1.06)">0,00</div>
<div class="x n" style="width:38.13px;text-align:right;transform:translate(379.38px,572.89px) rotate(0.03deg) scaleY(1.06)">0,00</div>
<div class="x n" style="width:39.13px;text-align:right;transform:translate(418.30px,572.87px) rotate(0.03deg) scaleY(1.06)">699,60</div>
<div class="x n" style="width:38.13px;text-align:right;transform:translate(458.23px,572.87px) rotate(0.03deg) scaleY(1.06)">699,60</div>
<div class="x n" style="width:41.12px;text-align:right;transform:translate(497.16px,572.88px) rotate(0.03deg) scaleY(1.06)">28&nbsp;849&nbsp;377,21</div>
<div class="x n" style="width:39.13px;text-align:right;transform:translate(539.08px,572.90px) rotate(0.03deg) scaleY(1.06)">0,00</div>
<div class="x n" style="width:40.37px;text-align:right;transform:translate(579.01px,572.95px) rotate(0.03deg) scaleY(1.06)">0,00</div>
<div class="x n" style="width:39.13px;text-align:right;transform:translate(620.18px,573.00px) rotate(0.03deg) scaleY(1.06)">0,00</div>
<div class="x n" style="width:38.63px;text-align:right;transform:translate(660.11px,573.07px) rotate(0.03deg) scaleY(1.06)">0,00</div>
<div class="x n" style="width:37.68px;text-align:right;transform:translate(699.54px,573.15px) rotate(0.03deg) scaleY(1.06)">699,60</div>
<div class="x n" style="width:39.08px;text-align:right;transform:translate(738.02px,573.25px) rotate(0.03deg) scaleY(1.06)">28&nbsp;849&nbsp;377,21</div>
<div class="x n" style="width:37.88px;text-align:right;transform:translate(777.89px,573.36px) rotate(0.03deg) scaleY(1.06)">0,00</div>
<div class="x n" style="width:38.13px;text-align:right;transform:translate(816.57px,573.48px) rotate(0.03deg) scaleY(1.06)">0,00</div>
<div class="x r" style="width:69.36px;transform:translate(47.31px,587.20px) rotate(0.03deg) scaleY(1.05)">3</div>
<div class="x l" style="width:94.84px;text-align:left;transform:translate(87.97px,583.63px) rotate(0.03deg)">Итого по Дубенский муниципальный</div>
<div class="x l" style="width:94.84px;text-align:left;transform:translate(87.97px,590.18px) rotate(0.03deg)">район</div>
<div class="x n" style="width:38.62px;text-align:right;transform:translate(182.80px,587.02px) rotate(0.03deg) scaleY(1.06)">776,71</div>
<div class="x n" style="width:38.37px;text-align:right;transform:translate(222.23px,586.93px) rotate(0.03deg) scaleY(1.06)">0,00</div>
<div class="x n" style="width:38.62px;text-align:right;transform:translate(261.40px,586.86px) rotate(0.03deg) scaleY(1.06)">0,00</div>
<div class="x n" style="width:38.87px;text-align:right;transform:translate(300.83px,586.80px) rotate(0.03deg) scaleY(1.06)">0,00</div>
<div class="x n" style="width:38.12px;text-align:right;transform:translate(340.50px,586.75px) rotate(0.03deg) scaleY(1.06)">0,00</div>
<div class="x n" style="width:38.12px;text-align:right;transform:translate(379.42px,586.72px) rotate(0.03deg) scaleY(1.06)">0,00</div>
<div class="x n" style="width:39.12px;text-align:right;transform:translate(418.35px,586.70px) rotate(0.03deg) scaleY(1.06)">776,71</div>
<div class="x n" style="width:38.12px;text-align:right;transform:translate(458.27px,586.70px) rotate(0.03deg) scaleY(1.06)">776,71</div>
<div class="x n" style="width:41.12px;text-align:right;transform:translate(497.19px,586.71px) rotate(0.03deg) scaleY(1.06)">32&nbsp;029&nbsp;159,28</div>
<div class="x n" style="width:39.12px;text-align:right;transform:translate(539.11px,586.74px) rotate(0.03deg) scaleY(1.06)">0,00</div>
<div class="x n" style="width:40.37px;text-align:right;transform:translate(579.04px,586.78px) rotate(0.03deg) scaleY(1.06)">0,00</div>
<div class="x n" style="width:39.12px;text-align:right;transform:translate(620.21px,586.84px) rotate(0.03deg) scaleY(1.06)">0,00</div>
<div class="x n" style="width:38.62px;text-align:right;transform:translate(660.13px,586.91px) rotate(0.03deg) scaleY(1.06)">0,00</div>
<div class="x n" style="width:37.68px;text-align:right;transform:translate(699.55px,586.99px) rotate(0.03deg) scaleY(1.06)">776,71</div>
<div class="x n" style="width:39.07px;text-align:right;transform:translate(738.03px,587.09px) rotate(0.03deg) scaleY(1.06)">32&nbsp;029&nbsp;159,28</div>
<div class="x n" style="width:37.88px;text-align:right;transform:translate(777.90px,587.20px) rotate(0.03deg) scaleY(1.06)">0,00</div>
<div class="x n" style="width:38.12px;text-align:right;transform:translate(816.58px,587.33px) rotate(0.03deg) scaleY(1.06)">0,00</div>
</div>
</body></html>
